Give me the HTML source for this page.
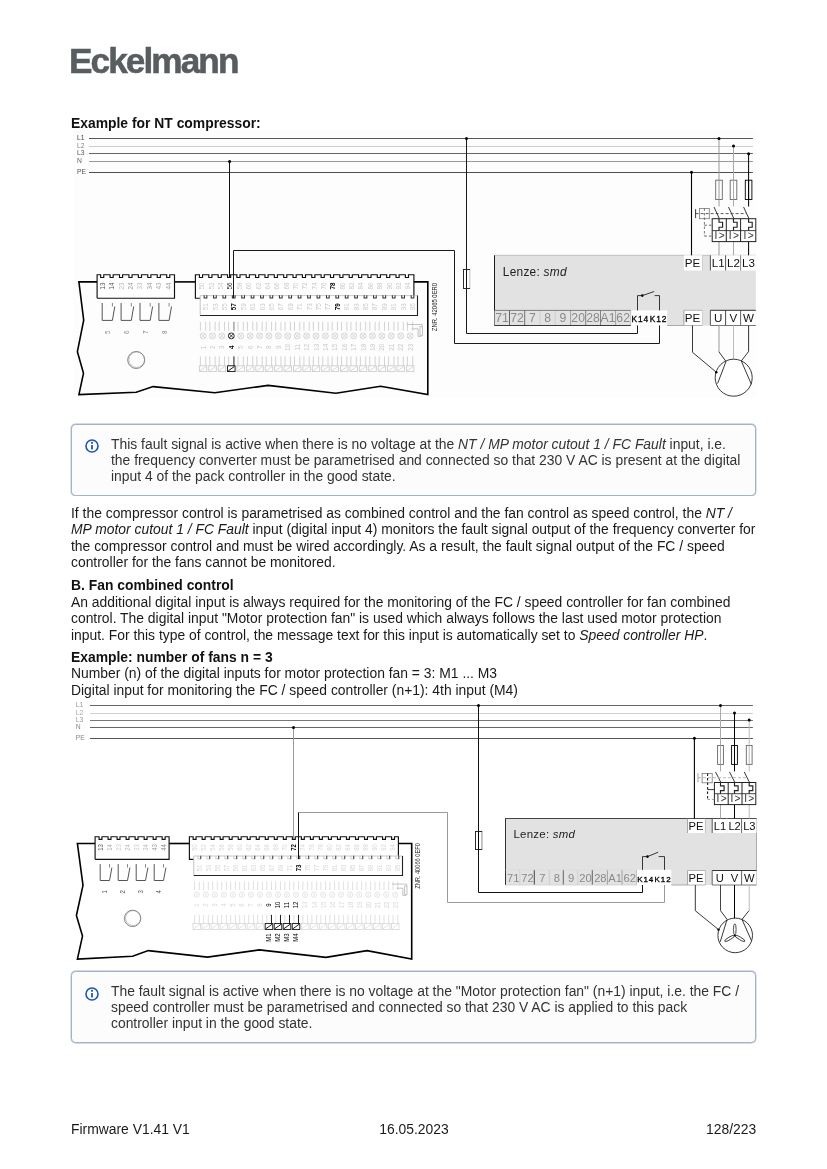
<!DOCTYPE html>
<html lang="en"><head><meta charset="utf-8"><title>Eckelmann – Firmware V1.41</title>
<style>
html,body{margin:0;padding:0;background:#fff;}
body{width:827px;height:1169px;position:relative;overflow:hidden;font-family:"Liberation Sans", Arial, sans-serif;color:#1a1a1a;}
.t{position:absolute;white-space:nowrap;will-change:transform;font-size:13.89px;line-height:18px;height:18px;}
.b{font-weight:bold;color:#111;}
.logo{position:absolute;will-change:transform;left:69.2px;top:41.4px;font-size:35.2px;line-height:40px;font-weight:bold;color:#585d60;-webkit-text-stroke:0.55px #585d60;letter-spacing:-1.92px;white-space:nowrap;}
.info{position:absolute;left:70.6px;width:683.2px;height:70px;border:1px solid #a3b3c7;border-radius:4.5px;background:#fcfcfc;box-shadow:0 0 0 0.4px #a9b8ca;}
.ico{position:absolute;}
svg.dia{position:absolute;left:0;top:0;will-change:transform;}
svg.dia text{font-family:"Liberation Sans", Arial, sans-serif;}
</style></head><body>
<div class="logo">Eckelmann</div>
<svg class="dia" width="827" height="1169" viewBox="0 0 827 1169">
<rect x="72.8" y="130" width="683.4" height="267.5" fill="#fdfdfd" stroke="none" stroke-width="1" />
<line x1="89" y1="138.5" x2="752.9" y2="138.5" stroke="#555" stroke-width="1" />
<text transform="translate(77 139.9) scale(0.88 1)" font-size="7.7" fill="#444" text-anchor="start" font-weight="normal" font-style="normal" >L1</text>
<line x1="89" y1="146.5" x2="752.9" y2="146.5" stroke="#cdcdcd" stroke-width="1" />
<text transform="translate(77 147.9) scale(0.88 1)" font-size="7.7" fill="#888" text-anchor="start" font-weight="normal" font-style="normal" >L2</text>
<line x1="89" y1="153.5" x2="752.9" y2="153.5" stroke="#666" stroke-width="1" />
<text transform="translate(77 154.9) scale(0.88 1)" font-size="7.7" fill="#555" text-anchor="start" font-weight="normal" font-style="normal" >L3</text>
<line x1="89" y1="161.5" x2="752.9" y2="161.5" stroke="#999" stroke-width="1" />
<text transform="translate(77 162.9) scale(0.88 1)" font-size="7.7" fill="#666" text-anchor="start" font-weight="normal" font-style="normal" >N</text>
<line x1="89" y1="172.5" x2="752.9" y2="172.5" stroke="#505050" stroke-width="1" />
<text transform="translate(77 173.9) scale(0.88 1)" font-size="7.7" fill="#555" text-anchor="start" font-weight="normal" font-style="normal" >PE</text>
<polyline points="97.1,281.9 78.9,281.9 83.7,320.1 77.4,351.6 83.5,373.3 78.9,394.6 136.2,392.2 153.1,386.6 214.8,392.7 268.1,385.4 335.9,393.2 380.6,386.2 427.8,394.6 427.8,281.9 413.9,281.9" fill="none" stroke="#000" stroke-width="1.6" stroke-linejoin="miter"/>
<line x1="174.5" y1="281.9" x2="195.4" y2="281.9" stroke="#000" stroke-width="1.6" />
<polyline points="97.1,298.2 97.1,274.7 100.65,274.7 100.65,277.5 103.75,277.5 103.75,274.7 110.08,274.7 110.08,277.5 113.18,277.5 113.18,274.7 119.51,274.7 119.51,277.5 122.61,277.5 122.61,274.7 128.94,274.7 128.94,277.5 132.04,277.5 132.04,274.7 138.37,274.7 138.37,277.5 141.47,277.5 141.47,274.7 147.8,274.7 147.8,277.5 150.9,277.5 150.9,274.7 157.23,274.7 157.23,277.5 160.33,277.5 160.33,274.7 166.66,274.7 166.66,277.5 169.76,277.5 169.76,274.7 174.5,274.7 174.5,298.2 97.1,298.2" fill="#fff" stroke="#111" stroke-width="1.15" />
<text transform="translate(104.72 286) rotate(-90) scale(0.89 1)" font-size="7" fill="#555" text-anchor="middle" font-weight="normal" font-style="normal" >13</text>
<text transform="translate(114.15 286) rotate(-90) scale(0.89 1)" font-size="7" fill="#555" text-anchor="middle" font-weight="normal" font-style="normal" >14</text>
<text transform="translate(123.58 286) rotate(-90) scale(0.89 1)" font-size="7" fill="#bbb" text-anchor="middle" font-weight="normal" font-style="normal" >23</text>
<text transform="translate(133.01 286) rotate(-90) scale(0.89 1)" font-size="7" fill="#999" text-anchor="middle" font-weight="normal" font-style="normal" >24</text>
<text transform="translate(142.44 286) rotate(-90) scale(0.89 1)" font-size="7" fill="#bbb" text-anchor="middle" font-weight="normal" font-style="normal" >33</text>
<text transform="translate(151.87 286) rotate(-90) scale(0.89 1)" font-size="7" fill="#999" text-anchor="middle" font-weight="normal" font-style="normal" >34</text>
<text transform="translate(161.3 286) rotate(-90) scale(0.89 1)" font-size="7" fill="#aaa" text-anchor="middle" font-weight="normal" font-style="normal" >43</text>
<text transform="translate(170.73 286) rotate(-90) scale(0.89 1)" font-size="7" fill="#999" text-anchor="middle" font-weight="normal" font-style="normal" >44</text>
<polyline points="102.2,303 102.2,320.4 112.4,320.4 114.8,306.5" fill="none" stroke="#555" stroke-width="1" />
<line x1="112.4" y1="303" x2="112.4" y2="306.5" stroke="#888" stroke-width="1" />
<text transform="translate(109.82 332.2) rotate(-90) scale(0.89 1)" font-size="7" fill="#888" text-anchor="middle" font-weight="normal" font-style="normal" >5</text>
<polyline points="121.1,303 121.1,320.4 131.3,320.4 133.7,306.5" fill="none" stroke="#555" stroke-width="1" />
<line x1="131.3" y1="303" x2="131.3" y2="306.5" stroke="#888" stroke-width="1" />
<text transform="translate(128.72 332.2) rotate(-90) scale(0.89 1)" font-size="7" fill="#888" text-anchor="middle" font-weight="normal" font-style="normal" >6</text>
<polyline points="140,303 140,320.4 150.2,320.4 152.6,306.5" fill="none" stroke="#555" stroke-width="1" />
<line x1="150.2" y1="303" x2="150.2" y2="306.5" stroke="#888" stroke-width="1" />
<text transform="translate(147.62 332.2) rotate(-90) scale(0.89 1)" font-size="7" fill="#888" text-anchor="middle" font-weight="normal" font-style="normal" >7</text>
<polyline points="158.9,303 158.9,320.4 169.1,320.4 171.5,306.5" fill="none" stroke="#555" stroke-width="1" />
<line x1="169.1" y1="303" x2="169.1" y2="306.5" stroke="#888" stroke-width="1" />
<text transform="translate(166.52 332.2) rotate(-90) scale(0.89 1)" font-size="7" fill="#888" text-anchor="middle" font-weight="normal" font-style="normal" >8</text>
<circle cx="136.2" cy="360" r="8.5" fill="none" stroke="#555" stroke-width="0.7"/>
<circle cx="136.7" cy="359.7" r="7.8" fill="none" stroke="#888" stroke-width="0.5"/>
<rect x="195.4" y="274.7" width="218.5" height="23.5" fill="#fff" stroke="none" stroke-width="1" />
<polyline points="200.2,298.2 195.4,298.2 195.4,274.7 199.45,274.7 199.45,277.5 202.55,277.5 202.55,274.7 208.81,274.7 208.81,277.5 211.91,277.5 211.91,274.7 218.17,274.7 218.17,277.5 221.27,277.5 221.27,274.7 227.53,274.7 227.53,277.5 230.63,277.5 230.63,274.7 236.89,274.7 236.89,277.5 239.99,277.5 239.99,274.7 246.25,274.7 246.25,277.5 249.35,277.5 249.35,274.7 255.61,274.7 255.61,277.5 258.71,277.5 258.71,274.7 264.97,274.7 264.97,277.5 268.07,277.5 268.07,274.7 274.33,274.7 274.33,277.5 277.43,277.5 277.43,274.7 283.69,274.7 283.69,277.5 286.79,277.5 286.79,274.7 293.05,274.7 293.05,277.5 296.15,277.5 296.15,274.7 302.41,274.7 302.41,277.5 305.51,277.5 305.51,274.7 311.77,274.7 311.77,277.5 314.87,277.5 314.87,274.7 321.13,274.7 321.13,277.5 324.23,277.5 324.23,274.7 330.49,274.7 330.49,277.5 333.59,277.5 333.59,274.7 339.85,274.7 339.85,277.5 342.95,277.5 342.95,274.7 349.21,274.7 349.21,277.5 352.31,277.5 352.31,274.7 358.57,274.7 358.57,277.5 361.67,277.5 361.67,274.7 367.93,274.7 367.93,277.5 371.03,277.5 371.03,274.7 377.29,274.7 377.29,277.5 380.39,277.5 380.39,274.7 386.65,274.7 386.65,277.5 389.75,277.5 389.75,274.7 396.01,274.7 396.01,277.5 399.11,277.5 399.11,274.7 405.37,274.7 405.37,277.5 408.47,277.5 408.47,274.7 413.9,274.7 413.9,295.6" fill="none" stroke="#111" stroke-width="1.15" />
<text transform="translate(204.42 286) rotate(-90) scale(0.89 1)" font-size="7" fill="#c8c8c8" text-anchor="middle" font-weight="normal" font-style="normal" >50</text>
<text transform="translate(213.78 286) rotate(-90) scale(0.89 1)" font-size="7" fill="#c8c8c8" text-anchor="middle" font-weight="normal" font-style="normal" >52</text>
<text transform="translate(223.13 286) rotate(-90) scale(0.89 1)" font-size="7" fill="#c8c8c8" text-anchor="middle" font-weight="normal" font-style="normal" >54</text>
<text transform="translate(232.49 286) rotate(-90) scale(0.89 1)" font-size="7" fill="#222" text-anchor="middle" font-weight="normal" font-style="normal" >56</text>
<text transform="translate(241.84 286) rotate(-90) scale(0.89 1)" font-size="7" fill="#c8c8c8" text-anchor="middle" font-weight="normal" font-style="normal" >58</text>
<text transform="translate(251.2 286) rotate(-90) scale(0.89 1)" font-size="7" fill="#c8c8c8" text-anchor="middle" font-weight="normal" font-style="normal" >60</text>
<text transform="translate(260.55 286) rotate(-90) scale(0.89 1)" font-size="7" fill="#c8c8c8" text-anchor="middle" font-weight="normal" font-style="normal" >62</text>
<text transform="translate(269.9 286) rotate(-90) scale(0.89 1)" font-size="7" fill="#c8c8c8" text-anchor="middle" font-weight="normal" font-style="normal" >64</text>
<text transform="translate(279.26 286) rotate(-90) scale(0.89 1)" font-size="7" fill="#c8c8c8" text-anchor="middle" font-weight="normal" font-style="normal" >66</text>
<text transform="translate(288.62 286) rotate(-90) scale(0.89 1)" font-size="7" fill="#c8c8c8" text-anchor="middle" font-weight="normal" font-style="normal" >68</text>
<text transform="translate(297.97 286) rotate(-90) scale(0.89 1)" font-size="7" fill="#c8c8c8" text-anchor="middle" font-weight="normal" font-style="normal" >70</text>
<text transform="translate(307.32 286) rotate(-90) scale(0.89 1)" font-size="7" fill="#c8c8c8" text-anchor="middle" font-weight="normal" font-style="normal" >72</text>
<text transform="translate(316.68 286) rotate(-90) scale(0.89 1)" font-size="7" fill="#c8c8c8" text-anchor="middle" font-weight="normal" font-style="normal" >74</text>
<text transform="translate(326.03 286) rotate(-90) scale(0.89 1)" font-size="7" fill="#c8c8c8" text-anchor="middle" font-weight="normal" font-style="normal" >76</text>
<text transform="translate(335.39 286) rotate(-90) scale(0.89 1)" font-size="7" fill="#000" text-anchor="middle" font-weight="bold" font-style="normal" >78</text>
<text transform="translate(344.75 286) rotate(-90) scale(0.89 1)" font-size="7" fill="#c8c8c8" text-anchor="middle" font-weight="normal" font-style="normal" >80</text>
<text transform="translate(354.1 286) rotate(-90) scale(0.89 1)" font-size="7" fill="#c8c8c8" text-anchor="middle" font-weight="normal" font-style="normal" >82</text>
<text transform="translate(363.45 286) rotate(-90) scale(0.89 1)" font-size="7" fill="#c8c8c8" text-anchor="middle" font-weight="normal" font-style="normal" >84</text>
<text transform="translate(372.81 286) rotate(-90) scale(0.89 1)" font-size="7" fill="#c8c8c8" text-anchor="middle" font-weight="normal" font-style="normal" >86</text>
<text transform="translate(382.16 286) rotate(-90) scale(0.89 1)" font-size="7" fill="#c8c8c8" text-anchor="middle" font-weight="normal" font-style="normal" >88</text>
<text transform="translate(391.52 286) rotate(-90) scale(0.89 1)" font-size="7" fill="#c8c8c8" text-anchor="middle" font-weight="normal" font-style="normal" >90</text>
<text transform="translate(400.88 286) rotate(-90) scale(0.89 1)" font-size="7" fill="#c8c8c8" text-anchor="middle" font-weight="normal" font-style="normal" >92</text>
<text transform="translate(410.23 286) rotate(-90) scale(0.89 1)" font-size="7" fill="#c8c8c8" text-anchor="middle" font-weight="normal" font-style="normal" >94</text>
<rect x="200.2" y="295.6" width="217.3" height="19.9" fill="#fff" stroke="none" stroke-width="1" />
<line x1="200.2" y1="295.6" x2="417.5" y2="295.6" stroke="#c4c4c4" stroke-width="0.9" />
<line x1="200.2" y1="295.6" x2="200.2" y2="315.5" stroke="#bbb" stroke-width="0.9" />
<polyline points="204.15,295.2 204.15,298 206.85,298 206.85,295.2" fill="none" stroke="#333" stroke-width="1.05" />
<polyline points="213.56,295.2 213.56,298 216.26,298 216.26,295.2" fill="none" stroke="#333" stroke-width="1.05" />
<polyline points="222.97,295.2 222.97,298 225.67,298 225.67,295.2" fill="none" stroke="#333" stroke-width="1.05" />
<polyline points="232.38,295.2 232.38,298 235.08,298 235.08,295.2" fill="none" stroke="#333" stroke-width="1.05" />
<polyline points="241.79,295.2 241.79,298 244.49,298 244.49,295.2" fill="none" stroke="#333" stroke-width="1.05" />
<polyline points="251.2,295.2 251.2,298 253.9,298 253.9,295.2" fill="none" stroke="#333" stroke-width="1.05" />
<polyline points="260.61,295.2 260.61,298 263.31,298 263.31,295.2" fill="none" stroke="#333" stroke-width="1.05" />
<polyline points="270.02,295.2 270.02,298 272.72,298 272.72,295.2" fill="none" stroke="#333" stroke-width="1.05" />
<polyline points="279.43,295.2 279.43,298 282.13,298 282.13,295.2" fill="none" stroke="#333" stroke-width="1.05" />
<polyline points="288.84,295.2 288.84,298 291.54,298 291.54,295.2" fill="none" stroke="#333" stroke-width="1.05" />
<polyline points="298.25,295.2 298.25,298 300.95,298 300.95,295.2" fill="none" stroke="#333" stroke-width="1.05" />
<polyline points="307.66,295.2 307.66,298 310.36,298 310.36,295.2" fill="none" stroke="#333" stroke-width="1.05" />
<polyline points="317.07,295.2 317.07,298 319.77,298 319.77,295.2" fill="none" stroke="#333" stroke-width="1.05" />
<polyline points="326.48,295.2 326.48,298 329.18,298 329.18,295.2" fill="none" stroke="#333" stroke-width="1.05" />
<polyline points="335.89,295.2 335.89,298 338.59,298 338.59,295.2" fill="none" stroke="#333" stroke-width="1.05" />
<polyline points="345.3,295.2 345.3,298 348,298 348,295.2" fill="none" stroke="#333" stroke-width="1.05" />
<polyline points="354.71,295.2 354.71,298 357.41,298 357.41,295.2" fill="none" stroke="#333" stroke-width="1.05" />
<polyline points="364.12,295.2 364.12,298 366.82,298 366.82,295.2" fill="none" stroke="#333" stroke-width="1.05" />
<polyline points="373.53,295.2 373.53,298 376.23,298 376.23,295.2" fill="none" stroke="#333" stroke-width="1.05" />
<polyline points="382.94,295.2 382.94,298 385.64,298 385.64,295.2" fill="none" stroke="#333" stroke-width="1.05" />
<polyline points="392.35,295.2 392.35,298 395.05,298 395.05,295.2" fill="none" stroke="#333" stroke-width="1.05" />
<polyline points="401.76,295.2 401.76,298 404.46,298 404.46,295.2" fill="none" stroke="#333" stroke-width="1.05" />
<polyline points="411.17,295.2 411.17,298 413.87,298 413.87,295.2" fill="none" stroke="#333" stroke-width="1.05" />
<polyline points="200.2,315.5 417.5,315.5 417.5,295.6" fill="none" stroke="#222" stroke-width="1.1" />
<text transform="translate(208.32 306.7) rotate(-90) scale(0.89 1)" font-size="7" fill="#c8c8c8" text-anchor="middle" font-weight="normal" font-style="normal" >51</text>
<text transform="translate(217.71 306.7) rotate(-90) scale(0.89 1)" font-size="7" fill="#c8c8c8" text-anchor="middle" font-weight="normal" font-style="normal" >53</text>
<text transform="translate(227.1 306.7) rotate(-90) scale(0.89 1)" font-size="7" fill="#c8c8c8" text-anchor="middle" font-weight="normal" font-style="normal" >55</text>
<text transform="translate(236.49 306.7) rotate(-90) scale(0.89 1)" font-size="7" fill="#000" text-anchor="middle" font-weight="bold" font-style="normal" >57</text>
<text transform="translate(245.88 306.7) rotate(-90) scale(0.89 1)" font-size="7" fill="#c8c8c8" text-anchor="middle" font-weight="normal" font-style="normal" >59</text>
<text transform="translate(255.27 306.7) rotate(-90) scale(0.89 1)" font-size="7" fill="#c8c8c8" text-anchor="middle" font-weight="normal" font-style="normal" >61</text>
<text transform="translate(264.66 306.7) rotate(-90) scale(0.89 1)" font-size="7" fill="#c8c8c8" text-anchor="middle" font-weight="normal" font-style="normal" >63</text>
<text transform="translate(274.05 306.7) rotate(-90) scale(0.89 1)" font-size="7" fill="#c8c8c8" text-anchor="middle" font-weight="normal" font-style="normal" >65</text>
<text transform="translate(283.44 306.7) rotate(-90) scale(0.89 1)" font-size="7" fill="#c8c8c8" text-anchor="middle" font-weight="normal" font-style="normal" >67</text>
<text transform="translate(292.83 306.7) rotate(-90) scale(0.89 1)" font-size="7" fill="#c8c8c8" text-anchor="middle" font-weight="normal" font-style="normal" >69</text>
<text transform="translate(302.22 306.7) rotate(-90) scale(0.89 1)" font-size="7" fill="#c8c8c8" text-anchor="middle" font-weight="normal" font-style="normal" >71</text>
<text transform="translate(311.61 306.7) rotate(-90) scale(0.89 1)" font-size="7" fill="#c8c8c8" text-anchor="middle" font-weight="normal" font-style="normal" >73</text>
<text transform="translate(321 306.7) rotate(-90) scale(0.89 1)" font-size="7" fill="#c8c8c8" text-anchor="middle" font-weight="normal" font-style="normal" >75</text>
<text transform="translate(330.39 306.7) rotate(-90) scale(0.89 1)" font-size="7" fill="#c8c8c8" text-anchor="middle" font-weight="normal" font-style="normal" >77</text>
<text transform="translate(339.78 306.7) rotate(-90) scale(0.89 1)" font-size="7" fill="#000" text-anchor="middle" font-weight="bold" font-style="normal" >79</text>
<text transform="translate(349.17 306.7) rotate(-90) scale(0.89 1)" font-size="7" fill="#c8c8c8" text-anchor="middle" font-weight="normal" font-style="normal" >81</text>
<text transform="translate(358.56 306.7) rotate(-90) scale(0.89 1)" font-size="7" fill="#c8c8c8" text-anchor="middle" font-weight="normal" font-style="normal" >83</text>
<text transform="translate(367.95 306.7) rotate(-90) scale(0.89 1)" font-size="7" fill="#c8c8c8" text-anchor="middle" font-weight="normal" font-style="normal" >85</text>
<text transform="translate(377.34 306.7) rotate(-90) scale(0.89 1)" font-size="7" fill="#c8c8c8" text-anchor="middle" font-weight="normal" font-style="normal" >87</text>
<text transform="translate(386.73 306.7) rotate(-90) scale(0.89 1)" font-size="7" fill="#c8c8c8" text-anchor="middle" font-weight="normal" font-style="normal" >89</text>
<text transform="translate(396.12 306.7) rotate(-90) scale(0.89 1)" font-size="7" fill="#c8c8c8" text-anchor="middle" font-weight="normal" font-style="normal" >91</text>
<text transform="translate(405.51 306.7) rotate(-90) scale(0.89 1)" font-size="7" fill="#c8c8c8" text-anchor="middle" font-weight="normal" font-style="normal" >93</text>
<text transform="translate(414.9 306.7) rotate(-90) scale(0.89 1)" font-size="7" fill="#c8c8c8" text-anchor="middle" font-weight="normal" font-style="normal" >95</text>
<line x1="200.4" y1="321.8" x2="200.4" y2="330.8" stroke="#c8c8c8" stroke-width="0.8" />
<line x1="205.7" y1="321.8" x2="205.7" y2="330.8" stroke="#c8c8c8" stroke-width="0.8" />
<circle cx="203.1" cy="335.9" r="2.95" fill="none" stroke="#c8c8c8" stroke-width="0.7"/>
<line x1="200.98" y1="333.78" x2="205.22" y2="338.02" stroke="#c8c8c8" stroke-width="0.7" />
<line x1="200.98" y1="338.02" x2="205.22" y2="333.78" stroke="#c8c8c8" stroke-width="0.7" />
<text transform="translate(205.62 347.2) rotate(-90) scale(0.89 1)" font-size="7" fill="#c8c8c8" text-anchor="middle" font-weight="normal" font-style="normal" >1</text>
<line x1="200.4" y1="356.4" x2="200.4" y2="365.8" stroke="#c8c8c8" stroke-width="0.8" />
<line x1="205.7" y1="356.4" x2="205.7" y2="365.8" stroke="#c8c8c8" stroke-width="0.8" />
<rect x="199.35" y="365.8" width="7.5" height="5.8" fill="none" stroke="#c8c8c8" stroke-width="0.8" />
<line x1="199.95" y1="371" x2="206.25" y2="366.4" stroke="#c8c8c8" stroke-width="0.7" />
<line x1="209.81" y1="321.8" x2="209.81" y2="330.8" stroke="#c8c8c8" stroke-width="0.8" />
<line x1="215.11" y1="321.8" x2="215.11" y2="330.8" stroke="#c8c8c8" stroke-width="0.8" />
<circle cx="212.51" cy="335.9" r="2.95" fill="none" stroke="#c8c8c8" stroke-width="0.7"/>
<line x1="210.39" y1="333.78" x2="214.63" y2="338.02" stroke="#c8c8c8" stroke-width="0.7" />
<line x1="210.39" y1="338.02" x2="214.63" y2="333.78" stroke="#c8c8c8" stroke-width="0.7" />
<text transform="translate(215.03 347.2) rotate(-90) scale(0.89 1)" font-size="7" fill="#c8c8c8" text-anchor="middle" font-weight="normal" font-style="normal" >2</text>
<line x1="209.81" y1="356.4" x2="209.81" y2="365.8" stroke="#c8c8c8" stroke-width="0.8" />
<line x1="215.11" y1="356.4" x2="215.11" y2="365.8" stroke="#c8c8c8" stroke-width="0.8" />
<rect x="208.76" y="365.8" width="7.5" height="5.8" fill="none" stroke="#c8c8c8" stroke-width="0.8" />
<line x1="209.36" y1="371" x2="215.66" y2="366.4" stroke="#c8c8c8" stroke-width="0.7" />
<line x1="219.22" y1="321.8" x2="219.22" y2="330.8" stroke="#c8c8c8" stroke-width="0.8" />
<line x1="224.52" y1="321.8" x2="224.52" y2="330.8" stroke="#c8c8c8" stroke-width="0.8" />
<circle cx="221.92" cy="335.9" r="2.95" fill="none" stroke="#c8c8c8" stroke-width="0.7"/>
<line x1="219.8" y1="333.78" x2="224.04" y2="338.02" stroke="#c8c8c8" stroke-width="0.7" />
<line x1="219.8" y1="338.02" x2="224.04" y2="333.78" stroke="#c8c8c8" stroke-width="0.7" />
<text transform="translate(224.44 347.2) rotate(-90) scale(0.89 1)" font-size="7" fill="#c8c8c8" text-anchor="middle" font-weight="normal" font-style="normal" >3</text>
<line x1="219.22" y1="356.4" x2="219.22" y2="365.8" stroke="#c8c8c8" stroke-width="0.8" />
<line x1="224.52" y1="356.4" x2="224.52" y2="365.8" stroke="#c8c8c8" stroke-width="0.8" />
<rect x="218.17" y="365.8" width="7.5" height="5.8" fill="none" stroke="#c8c8c8" stroke-width="0.8" />
<line x1="218.77" y1="371" x2="225.07" y2="366.4" stroke="#c8c8c8" stroke-width="0.7" />
<line x1="228.63" y1="321.8" x2="228.63" y2="330.8" stroke="#c8c8c8" stroke-width="0.8" />
<line x1="233.93" y1="321.8" x2="233.93" y2="330.8" stroke="#555" stroke-width="0.8" />
<circle cx="231.33" cy="335.9" r="2.95" fill="none" stroke="#000" stroke-width="0.8"/>
<line x1="229.21" y1="333.78" x2="233.45" y2="338.02" stroke="#000" stroke-width="0.7" />
<line x1="229.21" y1="338.02" x2="233.45" y2="333.78" stroke="#000" stroke-width="0.7" />
<text transform="translate(233.85 347.2) rotate(-90) scale(0.89 1)" font-size="7" fill="#000" text-anchor="middle" font-weight="bold" font-style="normal" >4</text>
<line x1="228.63" y1="356.4" x2="228.63" y2="365.8" stroke="#c8c8c8" stroke-width="0.8" />
<line x1="233.93" y1="356.4" x2="233.93" y2="365.8" stroke="#000" stroke-width="0.9" />
<rect x="227.58" y="365.8" width="7.5" height="5.8" fill="none" stroke="#000" stroke-width="0.85" />
<line x1="228.18" y1="371" x2="234.48" y2="366.4" stroke="#000" stroke-width="0.9" />
<line x1="238.04" y1="321.8" x2="238.04" y2="330.8" stroke="#c8c8c8" stroke-width="0.8" />
<line x1="243.34" y1="321.8" x2="243.34" y2="330.8" stroke="#c8c8c8" stroke-width="0.8" />
<circle cx="240.74" cy="335.9" r="2.95" fill="none" stroke="#c8c8c8" stroke-width="0.7"/>
<line x1="238.62" y1="333.78" x2="242.86" y2="338.02" stroke="#c8c8c8" stroke-width="0.7" />
<line x1="238.62" y1="338.02" x2="242.86" y2="333.78" stroke="#c8c8c8" stroke-width="0.7" />
<text transform="translate(243.26 347.2) rotate(-90) scale(0.89 1)" font-size="7" fill="#c8c8c8" text-anchor="middle" font-weight="normal" font-style="normal" >5</text>
<line x1="238.04" y1="356.4" x2="238.04" y2="365.8" stroke="#c8c8c8" stroke-width="0.8" />
<line x1="243.34" y1="356.4" x2="243.34" y2="365.8" stroke="#c8c8c8" stroke-width="0.8" />
<rect x="236.99" y="365.8" width="7.5" height="5.8" fill="none" stroke="#c8c8c8" stroke-width="0.8" />
<line x1="237.59" y1="371" x2="243.89" y2="366.4" stroke="#c8c8c8" stroke-width="0.7" />
<line x1="247.45" y1="321.8" x2="247.45" y2="330.8" stroke="#c8c8c8" stroke-width="0.8" />
<line x1="252.75" y1="321.8" x2="252.75" y2="330.8" stroke="#c8c8c8" stroke-width="0.8" />
<circle cx="250.15" cy="335.9" r="2.95" fill="none" stroke="#c8c8c8" stroke-width="0.7"/>
<line x1="248.03" y1="333.78" x2="252.27" y2="338.02" stroke="#c8c8c8" stroke-width="0.7" />
<line x1="248.03" y1="338.02" x2="252.27" y2="333.78" stroke="#c8c8c8" stroke-width="0.7" />
<text transform="translate(252.67 347.2) rotate(-90) scale(0.89 1)" font-size="7" fill="#c8c8c8" text-anchor="middle" font-weight="normal" font-style="normal" >6</text>
<line x1="247.45" y1="356.4" x2="247.45" y2="365.8" stroke="#c8c8c8" stroke-width="0.8" />
<line x1="252.75" y1="356.4" x2="252.75" y2="365.8" stroke="#c8c8c8" stroke-width="0.8" />
<rect x="246.4" y="365.8" width="7.5" height="5.8" fill="none" stroke="#c8c8c8" stroke-width="0.8" />
<line x1="247" y1="371" x2="253.3" y2="366.4" stroke="#c8c8c8" stroke-width="0.7" />
<line x1="256.86" y1="321.8" x2="256.86" y2="330.8" stroke="#c8c8c8" stroke-width="0.8" />
<line x1="262.16" y1="321.8" x2="262.16" y2="330.8" stroke="#c8c8c8" stroke-width="0.8" />
<circle cx="259.56" cy="335.9" r="2.95" fill="none" stroke="#c8c8c8" stroke-width="0.7"/>
<line x1="257.44" y1="333.78" x2="261.68" y2="338.02" stroke="#c8c8c8" stroke-width="0.7" />
<line x1="257.44" y1="338.02" x2="261.68" y2="333.78" stroke="#c8c8c8" stroke-width="0.7" />
<text transform="translate(262.08 347.2) rotate(-90) scale(0.89 1)" font-size="7" fill="#c8c8c8" text-anchor="middle" font-weight="normal" font-style="normal" >7</text>
<line x1="256.86" y1="356.4" x2="256.86" y2="365.8" stroke="#c8c8c8" stroke-width="0.8" />
<line x1="262.16" y1="356.4" x2="262.16" y2="365.8" stroke="#c8c8c8" stroke-width="0.8" />
<rect x="255.81" y="365.8" width="7.5" height="5.8" fill="none" stroke="#c8c8c8" stroke-width="0.8" />
<line x1="256.41" y1="371" x2="262.71" y2="366.4" stroke="#c8c8c8" stroke-width="0.7" />
<line x1="266.27" y1="321.8" x2="266.27" y2="330.8" stroke="#c8c8c8" stroke-width="0.8" />
<line x1="271.57" y1="321.8" x2="271.57" y2="330.8" stroke="#c8c8c8" stroke-width="0.8" />
<circle cx="268.97" cy="335.9" r="2.95" fill="none" stroke="#c8c8c8" stroke-width="0.7"/>
<line x1="266.85" y1="333.78" x2="271.09" y2="338.02" stroke="#c8c8c8" stroke-width="0.7" />
<line x1="266.85" y1="338.02" x2="271.09" y2="333.78" stroke="#c8c8c8" stroke-width="0.7" />
<text transform="translate(271.49 347.2) rotate(-90) scale(0.89 1)" font-size="7" fill="#c8c8c8" text-anchor="middle" font-weight="normal" font-style="normal" >8</text>
<line x1="266.27" y1="356.4" x2="266.27" y2="365.8" stroke="#c8c8c8" stroke-width="0.8" />
<line x1="271.57" y1="356.4" x2="271.57" y2="365.8" stroke="#c8c8c8" stroke-width="0.8" />
<rect x="265.22" y="365.8" width="7.5" height="5.8" fill="none" stroke="#c8c8c8" stroke-width="0.8" />
<line x1="265.82" y1="371" x2="272.12" y2="366.4" stroke="#c8c8c8" stroke-width="0.7" />
<line x1="275.68" y1="321.8" x2="275.68" y2="330.8" stroke="#c8c8c8" stroke-width="0.8" />
<line x1="280.98" y1="321.8" x2="280.98" y2="330.8" stroke="#c8c8c8" stroke-width="0.8" />
<circle cx="278.38" cy="335.9" r="2.95" fill="none" stroke="#c8c8c8" stroke-width="0.7"/>
<line x1="276.26" y1="333.78" x2="280.5" y2="338.02" stroke="#c8c8c8" stroke-width="0.7" />
<line x1="276.26" y1="338.02" x2="280.5" y2="333.78" stroke="#c8c8c8" stroke-width="0.7" />
<text transform="translate(280.9 347.2) rotate(-90) scale(0.89 1)" font-size="7" fill="#c8c8c8" text-anchor="middle" font-weight="normal" font-style="normal" >9</text>
<line x1="275.68" y1="356.4" x2="275.68" y2="365.8" stroke="#c8c8c8" stroke-width="0.8" />
<line x1="280.98" y1="356.4" x2="280.98" y2="365.8" stroke="#c8c8c8" stroke-width="0.8" />
<rect x="274.63" y="365.8" width="7.5" height="5.8" fill="none" stroke="#c8c8c8" stroke-width="0.8" />
<line x1="275.23" y1="371" x2="281.53" y2="366.4" stroke="#c8c8c8" stroke-width="0.7" />
<line x1="285.09" y1="321.8" x2="285.09" y2="330.8" stroke="#c8c8c8" stroke-width="0.8" />
<line x1="290.39" y1="321.8" x2="290.39" y2="330.8" stroke="#c8c8c8" stroke-width="0.8" />
<circle cx="287.79" cy="335.9" r="2.95" fill="none" stroke="#c8c8c8" stroke-width="0.7"/>
<line x1="285.67" y1="333.78" x2="289.91" y2="338.02" stroke="#c8c8c8" stroke-width="0.7" />
<line x1="285.67" y1="338.02" x2="289.91" y2="333.78" stroke="#c8c8c8" stroke-width="0.7" />
<text transform="translate(290.31 347.2) rotate(-90) scale(0.89 1)" font-size="7" fill="#c8c8c8" text-anchor="middle" font-weight="normal" font-style="normal" >10</text>
<line x1="285.09" y1="356.4" x2="285.09" y2="365.8" stroke="#c8c8c8" stroke-width="0.8" />
<line x1="290.39" y1="356.4" x2="290.39" y2="365.8" stroke="#c8c8c8" stroke-width="0.8" />
<rect x="284.04" y="365.8" width="7.5" height="5.8" fill="none" stroke="#c8c8c8" stroke-width="0.8" />
<line x1="284.64" y1="371" x2="290.94" y2="366.4" stroke="#c8c8c8" stroke-width="0.7" />
<line x1="294.5" y1="321.8" x2="294.5" y2="330.8" stroke="#c8c8c8" stroke-width="0.8" />
<line x1="299.8" y1="321.8" x2="299.8" y2="330.8" stroke="#c8c8c8" stroke-width="0.8" />
<circle cx="297.2" cy="335.9" r="2.95" fill="none" stroke="#c8c8c8" stroke-width="0.7"/>
<line x1="295.08" y1="333.78" x2="299.32" y2="338.02" stroke="#c8c8c8" stroke-width="0.7" />
<line x1="295.08" y1="338.02" x2="299.32" y2="333.78" stroke="#c8c8c8" stroke-width="0.7" />
<text transform="translate(299.72 347.2) rotate(-90) scale(0.89 1)" font-size="7" fill="#c8c8c8" text-anchor="middle" font-weight="normal" font-style="normal" >11</text>
<line x1="294.5" y1="356.4" x2="294.5" y2="365.8" stroke="#c8c8c8" stroke-width="0.8" />
<line x1="299.8" y1="356.4" x2="299.8" y2="365.8" stroke="#c8c8c8" stroke-width="0.8" />
<rect x="293.45" y="365.8" width="7.5" height="5.8" fill="none" stroke="#c8c8c8" stroke-width="0.8" />
<line x1="294.05" y1="371" x2="300.35" y2="366.4" stroke="#c8c8c8" stroke-width="0.7" />
<line x1="303.91" y1="321.8" x2="303.91" y2="330.8" stroke="#c8c8c8" stroke-width="0.8" />
<line x1="309.21" y1="321.8" x2="309.21" y2="330.8" stroke="#c8c8c8" stroke-width="0.8" />
<circle cx="306.61" cy="335.9" r="2.95" fill="none" stroke="#c8c8c8" stroke-width="0.7"/>
<line x1="304.49" y1="333.78" x2="308.73" y2="338.02" stroke="#c8c8c8" stroke-width="0.7" />
<line x1="304.49" y1="338.02" x2="308.73" y2="333.78" stroke="#c8c8c8" stroke-width="0.7" />
<text transform="translate(309.13 347.2) rotate(-90) scale(0.89 1)" font-size="7" fill="#c8c8c8" text-anchor="middle" font-weight="normal" font-style="normal" >12</text>
<line x1="303.91" y1="356.4" x2="303.91" y2="365.8" stroke="#c8c8c8" stroke-width="0.8" />
<line x1="309.21" y1="356.4" x2="309.21" y2="365.8" stroke="#c8c8c8" stroke-width="0.8" />
<rect x="302.86" y="365.8" width="7.5" height="5.8" fill="none" stroke="#c8c8c8" stroke-width="0.8" />
<line x1="303.46" y1="371" x2="309.76" y2="366.4" stroke="#c8c8c8" stroke-width="0.7" />
<line x1="313.32" y1="321.8" x2="313.32" y2="330.8" stroke="#c8c8c8" stroke-width="0.8" />
<line x1="318.62" y1="321.8" x2="318.62" y2="330.8" stroke="#c8c8c8" stroke-width="0.8" />
<circle cx="316.02" cy="335.9" r="2.95" fill="none" stroke="#c8c8c8" stroke-width="0.7"/>
<line x1="313.9" y1="333.78" x2="318.14" y2="338.02" stroke="#c8c8c8" stroke-width="0.7" />
<line x1="313.9" y1="338.02" x2="318.14" y2="333.78" stroke="#c8c8c8" stroke-width="0.7" />
<text transform="translate(318.54 347.2) rotate(-90) scale(0.89 1)" font-size="7" fill="#c8c8c8" text-anchor="middle" font-weight="normal" font-style="normal" >13</text>
<line x1="313.32" y1="356.4" x2="313.32" y2="365.8" stroke="#c8c8c8" stroke-width="0.8" />
<line x1="318.62" y1="356.4" x2="318.62" y2="365.8" stroke="#c8c8c8" stroke-width="0.8" />
<rect x="312.27" y="365.8" width="7.5" height="5.8" fill="none" stroke="#c8c8c8" stroke-width="0.8" />
<line x1="312.87" y1="371" x2="319.17" y2="366.4" stroke="#c8c8c8" stroke-width="0.7" />
<line x1="322.73" y1="321.8" x2="322.73" y2="330.8" stroke="#c8c8c8" stroke-width="0.8" />
<line x1="328.03" y1="321.8" x2="328.03" y2="330.8" stroke="#c8c8c8" stroke-width="0.8" />
<circle cx="325.43" cy="335.9" r="2.95" fill="none" stroke="#c8c8c8" stroke-width="0.7"/>
<line x1="323.31" y1="333.78" x2="327.55" y2="338.02" stroke="#c8c8c8" stroke-width="0.7" />
<line x1="323.31" y1="338.02" x2="327.55" y2="333.78" stroke="#c8c8c8" stroke-width="0.7" />
<text transform="translate(327.95 347.2) rotate(-90) scale(0.89 1)" font-size="7" fill="#c8c8c8" text-anchor="middle" font-weight="normal" font-style="normal" >14</text>
<line x1="322.73" y1="356.4" x2="322.73" y2="365.8" stroke="#c8c8c8" stroke-width="0.8" />
<line x1="328.03" y1="356.4" x2="328.03" y2="365.8" stroke="#c8c8c8" stroke-width="0.8" />
<rect x="321.68" y="365.8" width="7.5" height="5.8" fill="none" stroke="#c8c8c8" stroke-width="0.8" />
<line x1="322.28" y1="371" x2="328.58" y2="366.4" stroke="#c8c8c8" stroke-width="0.7" />
<line x1="332.14" y1="321.8" x2="332.14" y2="330.8" stroke="#c8c8c8" stroke-width="0.8" />
<line x1="337.44" y1="321.8" x2="337.44" y2="330.8" stroke="#c8c8c8" stroke-width="0.8" />
<circle cx="334.84" cy="335.9" r="2.95" fill="none" stroke="#c8c8c8" stroke-width="0.7"/>
<line x1="332.72" y1="333.78" x2="336.96" y2="338.02" stroke="#c8c8c8" stroke-width="0.7" />
<line x1="332.72" y1="338.02" x2="336.96" y2="333.78" stroke="#c8c8c8" stroke-width="0.7" />
<text transform="translate(337.36 347.2) rotate(-90) scale(0.89 1)" font-size="7" fill="#c8c8c8" text-anchor="middle" font-weight="normal" font-style="normal" >15</text>
<line x1="332.14" y1="356.4" x2="332.14" y2="365.8" stroke="#c8c8c8" stroke-width="0.8" />
<line x1="337.44" y1="356.4" x2="337.44" y2="365.8" stroke="#c8c8c8" stroke-width="0.8" />
<rect x="331.09" y="365.8" width="7.5" height="5.8" fill="none" stroke="#c8c8c8" stroke-width="0.8" />
<line x1="331.69" y1="371" x2="337.99" y2="366.4" stroke="#c8c8c8" stroke-width="0.7" />
<line x1="341.55" y1="321.8" x2="341.55" y2="330.8" stroke="#c8c8c8" stroke-width="0.8" />
<line x1="346.85" y1="321.8" x2="346.85" y2="330.8" stroke="#c8c8c8" stroke-width="0.8" />
<circle cx="344.25" cy="335.9" r="2.95" fill="none" stroke="#c8c8c8" stroke-width="0.7"/>
<line x1="342.13" y1="333.78" x2="346.37" y2="338.02" stroke="#c8c8c8" stroke-width="0.7" />
<line x1="342.13" y1="338.02" x2="346.37" y2="333.78" stroke="#c8c8c8" stroke-width="0.7" />
<text transform="translate(346.77 347.2) rotate(-90) scale(0.89 1)" font-size="7" fill="#c8c8c8" text-anchor="middle" font-weight="normal" font-style="normal" >16</text>
<line x1="341.55" y1="356.4" x2="341.55" y2="365.8" stroke="#c8c8c8" stroke-width="0.8" />
<line x1="346.85" y1="356.4" x2="346.85" y2="365.8" stroke="#c8c8c8" stroke-width="0.8" />
<rect x="340.5" y="365.8" width="7.5" height="5.8" fill="none" stroke="#c8c8c8" stroke-width="0.8" />
<line x1="341.1" y1="371" x2="347.4" y2="366.4" stroke="#c8c8c8" stroke-width="0.7" />
<line x1="350.96" y1="321.8" x2="350.96" y2="330.8" stroke="#c8c8c8" stroke-width="0.8" />
<line x1="356.26" y1="321.8" x2="356.26" y2="330.8" stroke="#c8c8c8" stroke-width="0.8" />
<circle cx="353.66" cy="335.9" r="2.95" fill="none" stroke="#c8c8c8" stroke-width="0.7"/>
<line x1="351.54" y1="333.78" x2="355.78" y2="338.02" stroke="#c8c8c8" stroke-width="0.7" />
<line x1="351.54" y1="338.02" x2="355.78" y2="333.78" stroke="#c8c8c8" stroke-width="0.7" />
<text transform="translate(356.18 347.2) rotate(-90) scale(0.89 1)" font-size="7" fill="#c8c8c8" text-anchor="middle" font-weight="normal" font-style="normal" >17</text>
<line x1="350.96" y1="356.4" x2="350.96" y2="365.8" stroke="#c8c8c8" stroke-width="0.8" />
<line x1="356.26" y1="356.4" x2="356.26" y2="365.8" stroke="#c8c8c8" stroke-width="0.8" />
<rect x="349.91" y="365.8" width="7.5" height="5.8" fill="none" stroke="#c8c8c8" stroke-width="0.8" />
<line x1="350.51" y1="371" x2="356.81" y2="366.4" stroke="#c8c8c8" stroke-width="0.7" />
<line x1="360.37" y1="321.8" x2="360.37" y2="330.8" stroke="#c8c8c8" stroke-width="0.8" />
<line x1="365.67" y1="321.8" x2="365.67" y2="330.8" stroke="#c8c8c8" stroke-width="0.8" />
<circle cx="363.07" cy="335.9" r="2.95" fill="none" stroke="#c8c8c8" stroke-width="0.7"/>
<line x1="360.95" y1="333.78" x2="365.19" y2="338.02" stroke="#c8c8c8" stroke-width="0.7" />
<line x1="360.95" y1="338.02" x2="365.19" y2="333.78" stroke="#c8c8c8" stroke-width="0.7" />
<text transform="translate(365.59 347.2) rotate(-90) scale(0.89 1)" font-size="7" fill="#c8c8c8" text-anchor="middle" font-weight="normal" font-style="normal" >18</text>
<line x1="360.37" y1="356.4" x2="360.37" y2="365.8" stroke="#c8c8c8" stroke-width="0.8" />
<line x1="365.67" y1="356.4" x2="365.67" y2="365.8" stroke="#c8c8c8" stroke-width="0.8" />
<rect x="359.32" y="365.8" width="7.5" height="5.8" fill="none" stroke="#c8c8c8" stroke-width="0.8" />
<line x1="359.92" y1="371" x2="366.22" y2="366.4" stroke="#c8c8c8" stroke-width="0.7" />
<line x1="369.78" y1="321.8" x2="369.78" y2="330.8" stroke="#c8c8c8" stroke-width="0.8" />
<line x1="375.08" y1="321.8" x2="375.08" y2="330.8" stroke="#c8c8c8" stroke-width="0.8" />
<circle cx="372.48" cy="335.9" r="2.95" fill="none" stroke="#c8c8c8" stroke-width="0.7"/>
<line x1="370.36" y1="333.78" x2="374.6" y2="338.02" stroke="#c8c8c8" stroke-width="0.7" />
<line x1="370.36" y1="338.02" x2="374.6" y2="333.78" stroke="#c8c8c8" stroke-width="0.7" />
<text transform="translate(375 347.2) rotate(-90) scale(0.89 1)" font-size="7" fill="#c8c8c8" text-anchor="middle" font-weight="normal" font-style="normal" >19</text>
<line x1="369.78" y1="356.4" x2="369.78" y2="365.8" stroke="#c8c8c8" stroke-width="0.8" />
<line x1="375.08" y1="356.4" x2="375.08" y2="365.8" stroke="#c8c8c8" stroke-width="0.8" />
<rect x="368.73" y="365.8" width="7.5" height="5.8" fill="none" stroke="#c8c8c8" stroke-width="0.8" />
<line x1="369.33" y1="371" x2="375.63" y2="366.4" stroke="#c8c8c8" stroke-width="0.7" />
<line x1="379.19" y1="321.8" x2="379.19" y2="330.8" stroke="#c8c8c8" stroke-width="0.8" />
<line x1="384.49" y1="321.8" x2="384.49" y2="330.8" stroke="#c8c8c8" stroke-width="0.8" />
<circle cx="381.89" cy="335.9" r="2.95" fill="none" stroke="#c8c8c8" stroke-width="0.7"/>
<line x1="379.77" y1="333.78" x2="384.01" y2="338.02" stroke="#c8c8c8" stroke-width="0.7" />
<line x1="379.77" y1="338.02" x2="384.01" y2="333.78" stroke="#c8c8c8" stroke-width="0.7" />
<text transform="translate(384.41 347.2) rotate(-90) scale(0.89 1)" font-size="7" fill="#c8c8c8" text-anchor="middle" font-weight="normal" font-style="normal" >20</text>
<line x1="379.19" y1="356.4" x2="379.19" y2="365.8" stroke="#c8c8c8" stroke-width="0.8" />
<line x1="384.49" y1="356.4" x2="384.49" y2="365.8" stroke="#c8c8c8" stroke-width="0.8" />
<rect x="378.14" y="365.8" width="7.5" height="5.8" fill="none" stroke="#c8c8c8" stroke-width="0.8" />
<line x1="378.74" y1="371" x2="385.04" y2="366.4" stroke="#c8c8c8" stroke-width="0.7" />
<line x1="388.6" y1="321.8" x2="388.6" y2="330.8" stroke="#c8c8c8" stroke-width="0.8" />
<line x1="393.9" y1="321.8" x2="393.9" y2="330.8" stroke="#c8c8c8" stroke-width="0.8" />
<circle cx="391.3" cy="335.9" r="2.95" fill="none" stroke="#c8c8c8" stroke-width="0.7"/>
<line x1="389.18" y1="333.78" x2="393.42" y2="338.02" stroke="#c8c8c8" stroke-width="0.7" />
<line x1="389.18" y1="338.02" x2="393.42" y2="333.78" stroke="#c8c8c8" stroke-width="0.7" />
<text transform="translate(393.82 347.2) rotate(-90) scale(0.89 1)" font-size="7" fill="#c8c8c8" text-anchor="middle" font-weight="normal" font-style="normal" >21</text>
<line x1="388.6" y1="356.4" x2="388.6" y2="365.8" stroke="#c8c8c8" stroke-width="0.8" />
<line x1="393.9" y1="356.4" x2="393.9" y2="365.8" stroke="#c8c8c8" stroke-width="0.8" />
<rect x="387.55" y="365.8" width="7.5" height="5.8" fill="none" stroke="#c8c8c8" stroke-width="0.8" />
<line x1="388.15" y1="371" x2="394.45" y2="366.4" stroke="#c8c8c8" stroke-width="0.7" />
<line x1="398.01" y1="321.8" x2="398.01" y2="330.8" stroke="#c8c8c8" stroke-width="0.8" />
<line x1="403.31" y1="321.8" x2="403.31" y2="330.8" stroke="#c8c8c8" stroke-width="0.8" />
<circle cx="400.71" cy="335.9" r="2.95" fill="none" stroke="#c8c8c8" stroke-width="0.7"/>
<line x1="398.59" y1="333.78" x2="402.83" y2="338.02" stroke="#c8c8c8" stroke-width="0.7" />
<line x1="398.59" y1="338.02" x2="402.83" y2="333.78" stroke="#c8c8c8" stroke-width="0.7" />
<text transform="translate(403.23 347.2) rotate(-90) scale(0.89 1)" font-size="7" fill="#c8c8c8" text-anchor="middle" font-weight="normal" font-style="normal" >22</text>
<line x1="398.01" y1="356.4" x2="398.01" y2="365.8" stroke="#c8c8c8" stroke-width="0.8" />
<line x1="403.31" y1="356.4" x2="403.31" y2="365.8" stroke="#c8c8c8" stroke-width="0.8" />
<rect x="396.96" y="365.8" width="7.5" height="5.8" fill="none" stroke="#c8c8c8" stroke-width="0.8" />
<line x1="397.56" y1="371" x2="403.86" y2="366.4" stroke="#c8c8c8" stroke-width="0.7" />
<line x1="407.42" y1="321.8" x2="407.42" y2="330.8" stroke="#c8c8c8" stroke-width="0.8" />
<line x1="412.72" y1="321.8" x2="412.72" y2="330.8" stroke="#c8c8c8" stroke-width="0.8" />
<circle cx="410.12" cy="335.9" r="2.95" fill="none" stroke="#c8c8c8" stroke-width="0.7"/>
<line x1="408" y1="333.78" x2="412.24" y2="338.02" stroke="#c8c8c8" stroke-width="0.7" />
<line x1="408" y1="338.02" x2="412.24" y2="333.78" stroke="#c8c8c8" stroke-width="0.7" />
<text transform="translate(412.64 347.2) rotate(-90) scale(0.89 1)" font-size="7" fill="#c8c8c8" text-anchor="middle" font-weight="normal" font-style="normal" >23</text>
<line x1="407.42" y1="356.4" x2="407.42" y2="365.8" stroke="#c8c8c8" stroke-width="0.8" />
<line x1="412.72" y1="356.4" x2="412.72" y2="365.8" stroke="#c8c8c8" stroke-width="0.8" />
<rect x="406.37" y="365.8" width="7.5" height="5.8" fill="none" stroke="#c8c8c8" stroke-width="0.8" />
<line x1="406.97" y1="371" x2="413.27" y2="366.4" stroke="#c8c8c8" stroke-width="0.7" />
<line x1="406.92" y1="324.5" x2="422.12" y2="324.5" stroke="#b4b4b4" stroke-width="0.8" />
<line x1="422.12" y1="324.5" x2="422.12" y2="326.6" stroke="#b4b4b4" stroke-width="0.8" />
<rect x="420.02" y="326.6" width="2.4" height="8.7" fill="none" stroke="#b4b4b4" stroke-width="0.8" />
<polyline points="411.62,328.8 418.12,328.8 418.12,336.4 421.22,336.4 421.22,335.3" fill="none" stroke="#b4b4b4" stroke-width="0.8" />
<text transform="translate(437.2 307) rotate(-90) scale(0.8 1)" font-size="7.4" fill="#222" text-anchor="middle" font-weight="normal" font-style="normal" >ZNR. 42065 0ER0</text>
<rect x="494.5" y="255.3" width="261.3" height="70.2" fill="#e2e2e2" stroke="none" stroke-width="1" />
<line x1="494.5" y1="255.3" x2="755.8" y2="255.3" stroke="#bbb" stroke-width="0.9" />
<line x1="494.5" y1="255.3" x2="494.5" y2="325.5" stroke="#1a1a1a" stroke-width="1" />
<rect x="630.7" y="310.4" width="36.5" height="15.1" fill="#fff" stroke="none" stroke-width="1" />
<text transform="translate(502 322.3)" font-size="12.2" fill="#8a8a8a" text-anchor="middle" font-weight="normal" font-style="normal" >71</text>
<text transform="translate(517.1 322.3)" font-size="12.2" fill="#8a8a8a" text-anchor="middle" font-weight="normal" font-style="normal" >72</text>
<text transform="translate(532.4 322.3)" font-size="12.2" fill="#8a8a8a" text-anchor="middle" font-weight="normal" font-style="normal" >7</text>
<text transform="translate(547.65 322.3)" font-size="12.2" fill="#8a8a8a" text-anchor="middle" font-weight="normal" font-style="normal" >8</text>
<text transform="translate(562.9 322.3)" font-size="12.2" fill="#8a8a8a" text-anchor="middle" font-weight="normal" font-style="normal" >9</text>
<text transform="translate(578.15 322.3)" font-size="12.2" fill="#8a8a8a" text-anchor="middle" font-weight="normal" font-style="normal" >20</text>
<text transform="translate(593.1 322.3)" font-size="12.2" fill="#8a8a8a" text-anchor="middle" font-weight="normal" font-style="normal" >28</text>
<text transform="translate(608.05 322.3)" font-size="12.2" fill="#8a8a8a" text-anchor="middle" font-weight="normal" font-style="normal" >A1</text>
<text transform="translate(623.15 322.3)" font-size="12.2" fill="#8a8a8a" text-anchor="middle" font-weight="normal" font-style="normal" >62</text>
<text transform="translate(640.25 322)" font-size="8.4" fill="#000" text-anchor="middle" font-weight="normal" font-style="normal" letter-spacing="0.9" stroke="#000" stroke-width="0.32">K14</text>
<text transform="translate(658.5 322)" font-size="8.4" fill="#000" text-anchor="middle" font-weight="normal" font-style="normal" letter-spacing="0.9" stroke="#000" stroke-width="0.32">K12</text>
<line x1="494.5" y1="310.4" x2="494.5" y2="325.5" stroke="#888" stroke-width="0.9" />
<line x1="509.5" y1="310.4" x2="509.5" y2="325.5" stroke="#555" stroke-width="0.9" />
<line x1="524.7" y1="310.4" x2="524.7" y2="325.5" stroke="#666" stroke-width="0.9" />
<line x1="540.1" y1="310.4" x2="540.1" y2="325.5" stroke="#ccc" stroke-width="0.9" />
<line x1="555.2" y1="310.4" x2="555.2" y2="325.5" stroke="#ccc" stroke-width="0.9" />
<line x1="570.6" y1="310.4" x2="570.6" y2="325.5" stroke="#999" stroke-width="0.9" />
<line x1="585.7" y1="310.4" x2="585.7" y2="325.5" stroke="#777" stroke-width="0.9" />
<line x1="600.5" y1="310.4" x2="600.5" y2="325.5" stroke="#777" stroke-width="0.9" />
<line x1="615.6" y1="310.4" x2="615.6" y2="325.5" stroke="#999" stroke-width="0.9" />
<line x1="630.7" y1="310.4" x2="630.7" y2="325.5" stroke="#bbb" stroke-width="0.9" />
<line x1="494.5" y1="325.5" x2="630.7" y2="325.5" stroke="#222" stroke-width="0.9" />
<line x1="494.5" y1="310.4" x2="630.7" y2="310.4" stroke="#666" stroke-width="0.8" />
<line x1="667.2" y1="325.5" x2="683.9" y2="325.5" stroke="#999" stroke-width="0.8" />
<text x="502.8" y="275.5" font-size="11.9" fill="#222" letter-spacing="0.25">Lenze: <tspan font-style="italic">smd</tspan></text>
<polyline points="637.5,310.4 637.5,295.6 642.3,295.6" fill="none" stroke="#222" stroke-width="0.9" />
<circle cx="642.3" cy="295.6" r="1.3" fill="#000" stroke="none" stroke-width="0"/>
<line x1="642.3" y1="295.6" x2="654.2" y2="291.5" stroke="#222" stroke-width="0.9" />
<polyline points="654.7,295.6 659.5,295.6 659.5,310.4" fill="none" stroke="#222" stroke-width="0.9" />
<polyline points="229.5,161.5 229.5,277.4" fill="none" stroke="#111" stroke-width="1" />
<polyline points="233.5,298 233.5,250.5 454.5,250.5 454.5,343.5 659.5,343.5 659.5,325.5" fill="none" stroke="#1a1a1a" stroke-width="1" />
<polyline points="466.5,138.5 466.5,333.5 637.5,333.5 637.5,325.5" fill="none" stroke="#1a1a1a" stroke-width="1" />
<circle cx="229.6" cy="161.5" r="1.5" fill="#000" stroke="none" stroke-width="0"/>
<circle cx="466.5" cy="138.5" r="1.5" fill="#000" stroke="none" stroke-width="0"/>
<rect x="463.5" y="269.5" width="6.1" height="19" fill="#fff" stroke="#222" stroke-width="0.95" />
<line x1="469.6" y1="270.1" x2="469.6" y2="287.9" stroke="#ddd" stroke-width="1.1" />
<line x1="466.5" y1="269.5" x2="466.5" y2="288.5" stroke="#111" stroke-width="1" />
<rect x="683.9" y="255.3" width="18.6" height="15.2" fill="#fff" stroke="none" stroke-width="1" />
<rect x="683.9" y="310.3" width="18.6" height="15.2" fill="#fff" stroke="none" stroke-width="1" />
<rect x="710.4" y="255.3" width="45.4" height="15.2" fill="#fff" stroke="none" stroke-width="1" />
<rect x="710.4" y="310.3" width="45.4" height="15.2" fill="#fff" stroke="none" stroke-width="1" />
<text transform="translate(692.6 267.1)" font-size="11.6" fill="#111" text-anchor="middle" font-weight="normal" font-style="normal" >PE</text>
<text transform="translate(692.6 322.1)" font-size="11.6" fill="#111" text-anchor="middle" font-weight="normal" font-style="normal" >PE</text>
<text transform="translate(718.3 267.1)" font-size="11.6" fill="#111" text-anchor="middle" font-weight="normal" font-style="normal" >L1</text>
<text transform="translate(718.3 322.1)" font-size="11.6" fill="#111" text-anchor="middle" font-weight="normal" font-style="normal" >U</text>
<text transform="translate(733.4 267.1)" font-size="11.6" fill="#111" text-anchor="middle" font-weight="normal" font-style="normal" >L2</text>
<text transform="translate(733.4 322.1)" font-size="11.6" fill="#111" text-anchor="middle" font-weight="normal" font-style="normal" >V</text>
<text transform="translate(748.5 267.1)" font-size="11.6" fill="#111" text-anchor="middle" font-weight="normal" font-style="normal" >L3</text>
<text transform="translate(748.5 322.1)" font-size="11.6" fill="#111" text-anchor="middle" font-weight="normal" font-style="normal" >W</text>
<line x1="683.9" y1="310.3" x2="683.9" y2="325.5" stroke="#999" stroke-width="0.9" />
<line x1="702.5" y1="255.3" x2="702.5" y2="270.5" stroke="#ccc" stroke-width="0.9" />
<line x1="702.5" y1="310.3" x2="702.5" y2="325.5" stroke="#ccc" stroke-width="0.9" />
<line x1="710.4" y1="255.3" x2="710.4" y2="270.5" stroke="#444" stroke-width="0.9" />
<line x1="710.4" y1="310.3" x2="710.4" y2="325.5" stroke="#444" stroke-width="0.9" />
<line x1="725.6" y1="255.3" x2="725.6" y2="270.5" stroke="#444" stroke-width="0.9" />
<line x1="725.6" y1="310.3" x2="725.6" y2="325.5" stroke="#333" stroke-width="0.9" />
<line x1="740.6" y1="255.3" x2="740.6" y2="270.5" stroke="#777" stroke-width="0.9" />
<line x1="740.6" y1="310.3" x2="740.6" y2="325.5" stroke="#555" stroke-width="0.9" />
<line x1="683.9" y1="310.3" x2="702.5" y2="310.3" stroke="#999" stroke-width="0.7" />
<line x1="710.4" y1="310.3" x2="755.8" y2="310.3" stroke="#333" stroke-width="1" />
<line x1="683.9" y1="325.5" x2="702.5" y2="325.5" stroke="#999" stroke-width="0.7" />
<line x1="710.4" y1="325.5" x2="755.8" y2="325.5" stroke="#666" stroke-width="0.9" />
<line x1="719" y1="138.4" x2="719" y2="206.5" stroke="#999" stroke-width="1" />
<rect x="715.7" y="180.2" width="6.6" height="19.3" fill="#fff" stroke="#666" stroke-width="0.9" />
<line x1="719" y1="180.2" x2="719" y2="199.5" stroke="#999" stroke-width="1" />
<circle cx="719" cy="138.4" r="1.5" fill="#000" stroke="none" stroke-width="0"/>
<line x1="714" y1="207" x2="719.4" y2="218.7" stroke="#222" stroke-width="0.9" />
<line x1="719" y1="241.6" x2="719" y2="255.3" stroke="#999" stroke-width="1" />
<line x1="719" y1="325.5" x2="719" y2="351.6" stroke="#999" stroke-width="1" />
<line x1="733.5" y1="146.1" x2="733.5" y2="206.5" stroke="#aaa" stroke-width="1" />
<rect x="730.2" y="180.2" width="6.6" height="19.3" fill="#fff" stroke="#666" stroke-width="0.9" />
<line x1="733.5" y1="180.2" x2="733.5" y2="199.5" stroke="#aaa" stroke-width="1" />
<circle cx="733.5" cy="146.1" r="1.5" fill="#000" stroke="none" stroke-width="0"/>
<line x1="728.5" y1="207" x2="733.9" y2="218.7" stroke="#222" stroke-width="0.9" />
<line x1="733.5" y1="241.6" x2="733.5" y2="255.3" stroke="#aaa" stroke-width="1" />
<line x1="733.5" y1="325.5" x2="733.5" y2="359.1" stroke="#bbb" stroke-width="1" />
<line x1="748.6" y1="153.7" x2="748.6" y2="206.5" stroke="#000" stroke-width="1" />
<rect x="745.3" y="180.2" width="6.6" height="19.3" fill="none" stroke="#000" stroke-width="0.9" />
<line x1="748.6" y1="180.2" x2="748.6" y2="199.5" stroke="#000" stroke-width="1" />
<circle cx="748.6" cy="153.7" r="1.5" fill="#000" stroke="none" stroke-width="0"/>
<line x1="743.6" y1="207" x2="749" y2="218.7" stroke="#222" stroke-width="0.9" />
<line x1="748.6" y1="241.6" x2="748.6" y2="255.3" stroke="#000" stroke-width="1" />
<line x1="748.6" y1="325.5" x2="748.6" y2="351.6" stroke="#333" stroke-width="1" />
<rect x="712.2" y="218.7" width="43.6" height="22.9" fill="#fff" stroke="#222" stroke-width="1" />
<line x1="712.2" y1="230.6" x2="755.8" y2="230.6" stroke="#333" stroke-width="0.9" />
<line x1="726.3" y1="218.7" x2="726.3" y2="241.6" stroke="#222" stroke-width="1" />
<line x1="740.6" y1="218.7" x2="740.6" y2="241.6" stroke="#222" stroke-width="1" />
<polyline points="719,218.7 719,222.27 722.6,222.27 722.6,227.27 719,227.27 719,230.6" fill="none" stroke="#222" stroke-width="1.15" />
<text x="720.25" y="239.1" font-size="10.2" fill="#333" text-anchor="middle" letter-spacing="1.3">I&gt;</text>
<polyline points="733.5,218.7 733.5,222.27 737.1,222.27 737.1,227.27 733.5,227.27 733.5,230.6" fill="none" stroke="#222" stroke-width="1.15" />
<text x="734.45" y="239.1" font-size="10.2" fill="#333" text-anchor="middle" letter-spacing="1.3">I&gt;</text>
<polyline points="748.6,218.7 748.6,222.27 752.2,222.27 752.2,227.27 748.6,227.27 748.6,230.6" fill="none" stroke="#222" stroke-width="1.15" />
<text x="749.2" y="239.1" font-size="10.2" fill="#333" text-anchor="middle" letter-spacing="1.3">I&gt;</text>
<line x1="695.6" y1="213.6" x2="746.1" y2="213.6" stroke="#333" stroke-width="0.8" stroke-dasharray="3 2"/>
<line x1="695.6" y1="209.1" x2="695.6" y2="218.1" stroke="#222" stroke-width="0.9" />
<rect x="699.5" y="208.5" width="9.8" height="10.2" fill="none" stroke="#777" stroke-width="0.8" />
<line x1="704.4" y1="208.5" x2="704.4" y2="236.1" stroke="#555" stroke-width="0.8" stroke-dasharray="2.5 2"/>
<line x1="704.4" y1="225.2" x2="712.2" y2="225.2" stroke="#555" stroke-width="0.9" stroke-dasharray="2.5 2"/>
<line x1="704.4" y1="236.1" x2="712.2" y2="236.1" stroke="#444" stroke-width="0.8" stroke-dasharray="2.5 2"/>
<line x1="691.5" y1="172.3" x2="691.5" y2="255.3" stroke="#000" stroke-width="1.1" />
<circle cx="691.5" cy="172.3" r="1.5" fill="#000" stroke="none" stroke-width="0"/>
<circle cx="733.7" cy="377.7" r="18.5" fill="#fff" stroke="#222" stroke-width="0.9"/>
<polyline points="692.5,325.5 692.5,352.3 716.3,372.2" fill="none" stroke="#222" stroke-width="0.9" />
<polyline points="718.8,351.6 726,361.5 717.6,383.5" fill="none" stroke="#222" stroke-width="0.9" />
<polyline points="748.5,351.6 741.3,361 751.4,384.3" fill="none" stroke="#222" stroke-width="0.9" />
<circle cx="716.3" cy="372.2" r="1.2" fill="#000" stroke="none" stroke-width="0"/>
<line x1="90" y1="705.5" x2="752.9" y2="705.5" stroke="#666" stroke-width="1" />
<text transform="translate(75.7 706.9) scale(0.88 1)" font-size="7.7" fill="#999" text-anchor="start" font-weight="normal" font-style="normal" >L1</text>
<line x1="90" y1="713.5" x2="752.9" y2="713.5" stroke="#d0d0d0" stroke-width="1" />
<text transform="translate(75.7 714.9) scale(0.88 1)" font-size="7.7" fill="#aaa" text-anchor="start" font-weight="normal" font-style="normal" >L2</text>
<line x1="90" y1="720.5" x2="752.9" y2="720.5" stroke="#777" stroke-width="1" />
<text transform="translate(75.7 721.9) scale(0.88 1)" font-size="7.7" fill="#999" text-anchor="start" font-weight="normal" font-style="normal" >L3</text>
<line x1="90" y1="727.5" x2="752.9" y2="727.5" stroke="#666" stroke-width="1" />
<text transform="translate(75.7 728.9) scale(0.88 1)" font-size="7.7" fill="#888" text-anchor="start" font-weight="normal" font-style="normal" >N</text>
<line x1="90" y1="738.5" x2="752.9" y2="738.5" stroke="#555" stroke-width="1" />
<text transform="translate(75.7 739.9) scale(0.88 1)" font-size="7.7" fill="#888" text-anchor="start" font-weight="normal" font-style="normal" >PE</text>
<polyline points="95.1,843.5 77.4,843.5 83,885.3 76.4,915.5 82.5,936.1 77.4,959.1 132.6,956.2 148.3,950.6 207.5,957.1 259.3,949.9 325.9,957.4 367,950.6 411.7,959.1 411.7,843.5 398.4,843.5" fill="none" stroke="#000" stroke-width="1.6" stroke-linejoin="miter"/>
<line x1="169.1" y1="843.5" x2="189.4" y2="843.5" stroke="#000" stroke-width="1.6" />
<polyline points="95.1,859.3 95.1,836.7 99.05,836.7 99.05,839.4 101.95,839.4 101.95,836.7 108.07,836.7 108.07,839.4 110.97,839.4 110.97,836.7 117.09,836.7 117.09,839.4 119.99,839.4 119.99,836.7 126.11,836.7 126.11,839.4 129.01,839.4 129.01,836.7 135.13,836.7 135.13,839.4 138.03,839.4 138.03,836.7 144.15,836.7 144.15,839.4 147.05,839.4 147.05,836.7 153.17,836.7 153.17,839.4 156.07,839.4 156.07,836.7 162.19,836.7 162.19,839.4 165.09,839.4 165.09,836.7 169.1,836.7 169.1,859.3 95.1,859.3" fill="#fff" stroke="#111" stroke-width="1.15" />
<text transform="translate(102.95 847.4) rotate(-90) scale(0.89 1)" font-size="6.8" fill="#555" text-anchor="middle" font-weight="normal" font-style="normal" >13</text>
<text transform="translate(111.97 847.4) rotate(-90) scale(0.89 1)" font-size="6.8" fill="#aaa" text-anchor="middle" font-weight="normal" font-style="normal" >14</text>
<text transform="translate(120.99 847.4) rotate(-90) scale(0.89 1)" font-size="6.8" fill="#ccc" text-anchor="middle" font-weight="normal" font-style="normal" >23</text>
<text transform="translate(130.01 847.4) rotate(-90) scale(0.89 1)" font-size="6.8" fill="#bbb" text-anchor="middle" font-weight="normal" font-style="normal" >24</text>
<text transform="translate(139.03 847.4) rotate(-90) scale(0.89 1)" font-size="6.8" fill="#ccc" text-anchor="middle" font-weight="normal" font-style="normal" >33</text>
<text transform="translate(148.05 847.4) rotate(-90) scale(0.89 1)" font-size="6.8" fill="#bbb" text-anchor="middle" font-weight="normal" font-style="normal" >34</text>
<text transform="translate(157.07 847.4) rotate(-90) scale(0.89 1)" font-size="6.8" fill="#999" text-anchor="middle" font-weight="normal" font-style="normal" >43</text>
<text transform="translate(166.09 847.4) rotate(-90) scale(0.89 1)" font-size="6.8" fill="#888" text-anchor="middle" font-weight="normal" font-style="normal" >44</text>
<polyline points="100.2,864.1 100.2,880.5 109.5,880.5 111.9,867.6" fill="none" stroke="#555" stroke-width="1" />
<line x1="109.5" y1="864.1" x2="109.5" y2="867.6" stroke="#888" stroke-width="1" />
<text transform="translate(107.3 891.8) rotate(-90) scale(0.89 1)" font-size="6.8" fill="#555" text-anchor="middle" font-weight="normal" font-style="normal" >1</text>
<polyline points="118.2,864.1 118.2,880.5 127.5,880.5 129.9,867.6" fill="none" stroke="#555" stroke-width="1" />
<line x1="127.5" y1="864.1" x2="127.5" y2="867.6" stroke="#888" stroke-width="1" />
<text transform="translate(125.3 891.8) rotate(-90) scale(0.89 1)" font-size="6.8" fill="#555" text-anchor="middle" font-weight="normal" font-style="normal" >2</text>
<polyline points="136.2,864.1 136.2,880.5 145.5,880.5 147.9,867.6" fill="none" stroke="#555" stroke-width="1" />
<line x1="145.5" y1="864.1" x2="145.5" y2="867.6" stroke="#888" stroke-width="1" />
<text transform="translate(143.3 891.8) rotate(-90) scale(0.89 1)" font-size="6.8" fill="#555" text-anchor="middle" font-weight="normal" font-style="normal" >3</text>
<polyline points="154.2,864.1 154.2,880.5 163.5,880.5 165.9,867.6" fill="none" stroke="#555" stroke-width="1" />
<line x1="163.5" y1="864.1" x2="163.5" y2="867.6" stroke="#888" stroke-width="1" />
<text transform="translate(161.3 891.8) rotate(-90) scale(0.89 1)" font-size="6.8" fill="#555" text-anchor="middle" font-weight="normal" font-style="normal" >4</text>
<circle cx="132.6" cy="918.4" r="8.2" fill="none" stroke="#555" stroke-width="0.7"/>
<circle cx="133.1" cy="918.1" r="7.5" fill="none" stroke="#888" stroke-width="0.5"/>
<rect x="189.4" y="836.7" width="209" height="22.6" fill="#fff" stroke="none" stroke-width="1" />
<polyline points="193.8,859.3 189.4,859.3 189.4,836.7 193.15,836.7 193.15,839.4 196.05,839.4 196.05,836.7 202.17,836.7 202.17,839.4 205.07,839.4 205.07,836.7 211.19,836.7 211.19,839.4 214.09,839.4 214.09,836.7 220.21,836.7 220.21,839.4 223.11,839.4 223.11,836.7 229.23,836.7 229.23,839.4 232.13,839.4 232.13,836.7 238.25,836.7 238.25,839.4 241.15,839.4 241.15,836.7 247.27,836.7 247.27,839.4 250.17,839.4 250.17,836.7 256.29,836.7 256.29,839.4 259.19,839.4 259.19,836.7 265.31,836.7 265.31,839.4 268.21,839.4 268.21,836.7 274.33,836.7 274.33,839.4 277.23,839.4 277.23,836.7 283.35,836.7 283.35,839.4 286.25,839.4 286.25,836.7 292.37,836.7 292.37,839.4 295.27,839.4 295.27,836.7 301.39,836.7 301.39,839.4 304.29,839.4 304.29,836.7 310.41,836.7 310.41,839.4 313.31,839.4 313.31,836.7 319.43,836.7 319.43,839.4 322.33,839.4 322.33,836.7 328.45,836.7 328.45,839.4 331.35,839.4 331.35,836.7 337.47,836.7 337.47,839.4 340.37,839.4 340.37,836.7 346.49,836.7 346.49,839.4 349.39,839.4 349.39,836.7 355.51,836.7 355.51,839.4 358.41,839.4 358.41,836.7 364.53,836.7 364.53,839.4 367.43,839.4 367.43,836.7 373.55,836.7 373.55,839.4 376.45,839.4 376.45,836.7 382.57,836.7 382.57,839.4 385.47,839.4 385.47,836.7 391.59,836.7 391.59,839.4 394.49,839.4 394.49,836.7 398.4,836.7 398.4,856" fill="none" stroke="#111" stroke-width="1.15" />
<text transform="translate(196.85 847.4) rotate(-90) scale(0.89 1)" font-size="6.8" fill="#d8d8d8" text-anchor="middle" font-weight="normal" font-style="normal" >50</text>
<text transform="translate(205.86 847.4) rotate(-90) scale(0.89 1)" font-size="6.8" fill="#d8d8d8" text-anchor="middle" font-weight="normal" font-style="normal" >52</text>
<text transform="translate(214.87 847.4) rotate(-90) scale(0.89 1)" font-size="6.8" fill="#d8d8d8" text-anchor="middle" font-weight="normal" font-style="normal" >54</text>
<text transform="translate(223.88 847.4) rotate(-90) scale(0.89 1)" font-size="6.8" fill="#d8d8d8" text-anchor="middle" font-weight="normal" font-style="normal" >56</text>
<text transform="translate(232.89 847.4) rotate(-90) scale(0.89 1)" font-size="6.8" fill="#d8d8d8" text-anchor="middle" font-weight="normal" font-style="normal" >58</text>
<text transform="translate(241.9 847.4) rotate(-90) scale(0.89 1)" font-size="6.8" fill="#d8d8d8" text-anchor="middle" font-weight="normal" font-style="normal" >60</text>
<text transform="translate(250.91 847.4) rotate(-90) scale(0.89 1)" font-size="6.8" fill="#d8d8d8" text-anchor="middle" font-weight="normal" font-style="normal" >62</text>
<text transform="translate(259.92 847.4) rotate(-90) scale(0.89 1)" font-size="6.8" fill="#d8d8d8" text-anchor="middle" font-weight="normal" font-style="normal" >64</text>
<text transform="translate(268.93 847.4) rotate(-90) scale(0.89 1)" font-size="6.8" fill="#d8d8d8" text-anchor="middle" font-weight="normal" font-style="normal" >66</text>
<text transform="translate(277.94 847.4) rotate(-90) scale(0.89 1)" font-size="6.8" fill="#d8d8d8" text-anchor="middle" font-weight="normal" font-style="normal" >68</text>
<text transform="translate(286.95 847.4) rotate(-90) scale(0.89 1)" font-size="6.8" fill="#d8d8d8" text-anchor="middle" font-weight="normal" font-style="normal" >70</text>
<text transform="translate(295.96 847.4) rotate(-90) scale(0.89 1)" font-size="6.8" fill="#000" text-anchor="middle" font-weight="bold" font-style="normal" >72</text>
<text transform="translate(304.97 847.4) rotate(-90) scale(0.89 1)" font-size="6.8" fill="#d8d8d8" text-anchor="middle" font-weight="normal" font-style="normal" >74</text>
<text transform="translate(313.98 847.4) rotate(-90) scale(0.89 1)" font-size="6.8" fill="#d8d8d8" text-anchor="middle" font-weight="normal" font-style="normal" >76</text>
<text transform="translate(322.99 847.4) rotate(-90) scale(0.89 1)" font-size="6.8" fill="#d8d8d8" text-anchor="middle" font-weight="normal" font-style="normal" >78</text>
<text transform="translate(332 847.4) rotate(-90) scale(0.89 1)" font-size="6.8" fill="#d8d8d8" text-anchor="middle" font-weight="normal" font-style="normal" >80</text>
<text transform="translate(341.01 847.4) rotate(-90) scale(0.89 1)" font-size="6.8" fill="#d8d8d8" text-anchor="middle" font-weight="normal" font-style="normal" >82</text>
<text transform="translate(350.02 847.4) rotate(-90) scale(0.89 1)" font-size="6.8" fill="#d8d8d8" text-anchor="middle" font-weight="normal" font-style="normal" >84</text>
<text transform="translate(359.03 847.4) rotate(-90) scale(0.89 1)" font-size="6.8" fill="#d8d8d8" text-anchor="middle" font-weight="normal" font-style="normal" >86</text>
<text transform="translate(368.04 847.4) rotate(-90) scale(0.89 1)" font-size="6.8" fill="#d8d8d8" text-anchor="middle" font-weight="normal" font-style="normal" >88</text>
<text transform="translate(377.05 847.4) rotate(-90) scale(0.89 1)" font-size="6.8" fill="#d8d8d8" text-anchor="middle" font-weight="normal" font-style="normal" >90</text>
<text transform="translate(386.06 847.4) rotate(-90) scale(0.89 1)" font-size="6.8" fill="#d8d8d8" text-anchor="middle" font-weight="normal" font-style="normal" >92</text>
<text transform="translate(395.07 847.4) rotate(-90) scale(0.89 1)" font-size="6.8" fill="#d8d8d8" text-anchor="middle" font-weight="normal" font-style="normal" >94</text>
<rect x="193.8" y="856" width="208.7" height="19.5" fill="#fff" stroke="none" stroke-width="1" />
<line x1="193.8" y1="856" x2="402.5" y2="856" stroke="#c4c4c4" stroke-width="0.9" />
<line x1="193.8" y1="856" x2="193.8" y2="875.5" stroke="#bbb" stroke-width="0.9" />
<polyline points="197.85,856 197.85,858.9 200.75,858.9" fill="none" stroke="#c4c4c4" stroke-width="0.9" />
<line x1="200.75" y1="855.7" x2="200.75" y2="859.1" stroke="#333" stroke-width="1" />
<polyline points="206.85,856 206.85,858.9 209.75,858.9" fill="none" stroke="#c4c4c4" stroke-width="0.9" />
<line x1="209.75" y1="855.7" x2="209.75" y2="859.1" stroke="#333" stroke-width="1" />
<polyline points="215.85,856 215.85,858.9 218.75,858.9" fill="none" stroke="#c4c4c4" stroke-width="0.9" />
<line x1="218.75" y1="855.7" x2="218.75" y2="859.1" stroke="#333" stroke-width="1" />
<polyline points="224.85,856 224.85,858.9 227.75,858.9" fill="none" stroke="#c4c4c4" stroke-width="0.9" />
<line x1="227.75" y1="855.7" x2="227.75" y2="859.1" stroke="#333" stroke-width="1" />
<polyline points="233.85,856 233.85,858.9 236.75,858.9" fill="none" stroke="#c4c4c4" stroke-width="0.9" />
<line x1="236.75" y1="855.7" x2="236.75" y2="859.1" stroke="#333" stroke-width="1" />
<polyline points="242.85,856 242.85,858.9 245.75,858.9" fill="none" stroke="#c4c4c4" stroke-width="0.9" />
<line x1="245.75" y1="855.7" x2="245.75" y2="859.1" stroke="#333" stroke-width="1" />
<polyline points="251.85,856 251.85,858.9 254.75,858.9" fill="none" stroke="#c4c4c4" stroke-width="0.9" />
<line x1="254.75" y1="855.7" x2="254.75" y2="859.1" stroke="#333" stroke-width="1" />
<polyline points="260.85,856 260.85,858.9 263.75,858.9" fill="none" stroke="#c4c4c4" stroke-width="0.9" />
<line x1="263.75" y1="855.7" x2="263.75" y2="859.1" stroke="#333" stroke-width="1" />
<polyline points="269.85,856 269.85,858.9 272.75,858.9" fill="none" stroke="#c4c4c4" stroke-width="0.9" />
<line x1="272.75" y1="855.7" x2="272.75" y2="859.1" stroke="#333" stroke-width="1" />
<polyline points="278.85,856 278.85,858.9 281.75,858.9" fill="none" stroke="#c4c4c4" stroke-width="0.9" />
<line x1="281.75" y1="855.7" x2="281.75" y2="859.1" stroke="#333" stroke-width="1" />
<polyline points="287.85,856 287.85,858.9 290.75,858.9" fill="none" stroke="#c4c4c4" stroke-width="0.9" />
<line x1="290.75" y1="855.7" x2="290.75" y2="859.1" stroke="#333" stroke-width="1" />
<polyline points="296.85,856 296.85,858.9 299.75,858.9" fill="none" stroke="#c4c4c4" stroke-width="0.9" />
<line x1="299.75" y1="855.7" x2="299.75" y2="859.1" stroke="#333" stroke-width="1" />
<polyline points="305.85,856 305.85,858.9 308.75,858.9" fill="none" stroke="#c4c4c4" stroke-width="0.9" />
<line x1="308.75" y1="855.7" x2="308.75" y2="859.1" stroke="#333" stroke-width="1" />
<polyline points="314.85,856 314.85,858.9 317.75,858.9" fill="none" stroke="#c4c4c4" stroke-width="0.9" />
<line x1="317.75" y1="855.7" x2="317.75" y2="859.1" stroke="#333" stroke-width="1" />
<polyline points="323.85,856 323.85,858.9 326.75,858.9" fill="none" stroke="#c4c4c4" stroke-width="0.9" />
<line x1="326.75" y1="855.7" x2="326.75" y2="859.1" stroke="#333" stroke-width="1" />
<polyline points="332.85,856 332.85,858.9 335.75,858.9" fill="none" stroke="#c4c4c4" stroke-width="0.9" />
<line x1="335.75" y1="855.7" x2="335.75" y2="859.1" stroke="#333" stroke-width="1" />
<polyline points="341.85,856 341.85,858.9 344.75,858.9" fill="none" stroke="#c4c4c4" stroke-width="0.9" />
<line x1="344.75" y1="855.7" x2="344.75" y2="859.1" stroke="#333" stroke-width="1" />
<polyline points="350.85,856 350.85,858.9 353.75,858.9" fill="none" stroke="#c4c4c4" stroke-width="0.9" />
<line x1="353.75" y1="855.7" x2="353.75" y2="859.1" stroke="#333" stroke-width="1" />
<polyline points="359.85,856 359.85,858.9 362.75,858.9" fill="none" stroke="#c4c4c4" stroke-width="0.9" />
<line x1="362.75" y1="855.7" x2="362.75" y2="859.1" stroke="#333" stroke-width="1" />
<polyline points="368.85,856 368.85,858.9 371.75,858.9" fill="none" stroke="#c4c4c4" stroke-width="0.9" />
<line x1="371.75" y1="855.7" x2="371.75" y2="859.1" stroke="#333" stroke-width="1" />
<polyline points="377.85,856 377.85,858.9 380.75,858.9" fill="none" stroke="#c4c4c4" stroke-width="0.9" />
<line x1="380.75" y1="855.7" x2="380.75" y2="859.1" stroke="#333" stroke-width="1" />
<polyline points="386.85,856 386.85,858.9 389.75,858.9" fill="none" stroke="#c4c4c4" stroke-width="0.9" />
<line x1="389.75" y1="855.7" x2="389.75" y2="859.1" stroke="#333" stroke-width="1" />
<polyline points="395.85,856 395.85,858.9 398.75,858.9" fill="none" stroke="#c4c4c4" stroke-width="0.9" />
<line x1="398.75" y1="855.7" x2="398.75" y2="859.1" stroke="#333" stroke-width="1" />
<polyline points="193.8,875.5 402.5,875.5 402.5,856" fill="none" stroke="#222" stroke-width="1.1" />
<text transform="translate(201.85 868) rotate(-90) scale(0.89 1)" font-size="6.8" fill="#d8d8d8" text-anchor="middle" font-weight="normal" font-style="normal" >51</text>
<text transform="translate(210.86 868) rotate(-90) scale(0.89 1)" font-size="6.8" fill="#d8d8d8" text-anchor="middle" font-weight="normal" font-style="normal" >53</text>
<text transform="translate(219.87 868) rotate(-90) scale(0.89 1)" font-size="6.8" fill="#d8d8d8" text-anchor="middle" font-weight="normal" font-style="normal" >55</text>
<text transform="translate(228.88 868) rotate(-90) scale(0.89 1)" font-size="6.8" fill="#d8d8d8" text-anchor="middle" font-weight="normal" font-style="normal" >57</text>
<text transform="translate(237.89 868) rotate(-90) scale(0.89 1)" font-size="6.8" fill="#d8d8d8" text-anchor="middle" font-weight="normal" font-style="normal" >59</text>
<text transform="translate(246.9 868) rotate(-90) scale(0.89 1)" font-size="6.8" fill="#d8d8d8" text-anchor="middle" font-weight="normal" font-style="normal" >61</text>
<text transform="translate(255.91 868) rotate(-90) scale(0.89 1)" font-size="6.8" fill="#d8d8d8" text-anchor="middle" font-weight="normal" font-style="normal" >63</text>
<text transform="translate(264.92 868) rotate(-90) scale(0.89 1)" font-size="6.8" fill="#d8d8d8" text-anchor="middle" font-weight="normal" font-style="normal" >65</text>
<text transform="translate(273.93 868) rotate(-90) scale(0.89 1)" font-size="6.8" fill="#d8d8d8" text-anchor="middle" font-weight="normal" font-style="normal" >67</text>
<text transform="translate(282.94 868) rotate(-90) scale(0.89 1)" font-size="6.8" fill="#d8d8d8" text-anchor="middle" font-weight="normal" font-style="normal" >69</text>
<text transform="translate(291.95 868) rotate(-90) scale(0.89 1)" font-size="6.8" fill="#d8d8d8" text-anchor="middle" font-weight="normal" font-style="normal" >71</text>
<text transform="translate(300.96 868) rotate(-90) scale(0.89 1)" font-size="6.8" fill="#000" text-anchor="middle" font-weight="bold" font-style="normal" >73</text>
<text transform="translate(309.97 868) rotate(-90) scale(0.89 1)" font-size="6.8" fill="#d8d8d8" text-anchor="middle" font-weight="normal" font-style="normal" >75</text>
<text transform="translate(318.98 868) rotate(-90) scale(0.89 1)" font-size="6.8" fill="#d8d8d8" text-anchor="middle" font-weight="normal" font-style="normal" >77</text>
<text transform="translate(327.99 868) rotate(-90) scale(0.89 1)" font-size="6.8" fill="#d8d8d8" text-anchor="middle" font-weight="normal" font-style="normal" >79</text>
<text transform="translate(337 868) rotate(-90) scale(0.89 1)" font-size="6.8" fill="#d8d8d8" text-anchor="middle" font-weight="normal" font-style="normal" >81</text>
<text transform="translate(346.01 868) rotate(-90) scale(0.89 1)" font-size="6.8" fill="#d8d8d8" text-anchor="middle" font-weight="normal" font-style="normal" >83</text>
<text transform="translate(355.02 868) rotate(-90) scale(0.89 1)" font-size="6.8" fill="#d8d8d8" text-anchor="middle" font-weight="normal" font-style="normal" >85</text>
<text transform="translate(364.03 868) rotate(-90) scale(0.89 1)" font-size="6.8" fill="#d8d8d8" text-anchor="middle" font-weight="normal" font-style="normal" >87</text>
<text transform="translate(373.04 868) rotate(-90) scale(0.89 1)" font-size="6.8" fill="#d8d8d8" text-anchor="middle" font-weight="normal" font-style="normal" >89</text>
<text transform="translate(382.05 868) rotate(-90) scale(0.89 1)" font-size="6.8" fill="#d8d8d8" text-anchor="middle" font-weight="normal" font-style="normal" >91</text>
<text transform="translate(391.06 868) rotate(-90) scale(0.89 1)" font-size="6.8" fill="#d8d8d8" text-anchor="middle" font-weight="normal" font-style="normal" >93</text>
<text transform="translate(400.07 868) rotate(-90) scale(0.89 1)" font-size="6.8" fill="#d8d8d8" text-anchor="middle" font-weight="normal" font-style="normal" >95</text>
<line x1="194.6" y1="881.5" x2="194.6" y2="890.2" stroke="#d8d8d8" stroke-width="0.8" />
<line x1="199.3" y1="881.5" x2="199.3" y2="890.2" stroke="#d8d8d8" stroke-width="0.8" />
<circle cx="196.8" cy="894.7" r="2.6" fill="none" stroke="#d8d8d8" stroke-width="0.7"/>
<circle cx="196.8" cy="894.7" r="0.8" fill="#d8d8d8" stroke="none" stroke-width="0"/>
<text transform="translate(199.25 905) rotate(-90) scale(0.89 1)" font-size="6.8" fill="#d8d8d8" text-anchor="middle" font-weight="normal" font-style="normal" >1</text>
<line x1="194.6" y1="914.9" x2="194.6" y2="923.6" stroke="#d8d8d8" stroke-width="0.8" />
<line x1="199.3" y1="914.9" x2="199.3" y2="923.6" stroke="#d8d8d8" stroke-width="0.8" />
<rect x="193" y="923.6" width="7.6" height="5.8" fill="none" stroke="#d8d8d8" stroke-width="0.8" />
<line x1="193.6" y1="928.8" x2="200" y2="924.2" stroke="#d8d8d8" stroke-width="0.7" />
<line x1="203.62" y1="881.5" x2="203.62" y2="890.2" stroke="#d8d8d8" stroke-width="0.8" />
<line x1="208.32" y1="881.5" x2="208.32" y2="890.2" stroke="#d8d8d8" stroke-width="0.8" />
<circle cx="205.82" cy="894.7" r="2.6" fill="none" stroke="#d8d8d8" stroke-width="0.7"/>
<circle cx="205.82" cy="894.7" r="0.8" fill="#d8d8d8" stroke="none" stroke-width="0"/>
<text transform="translate(208.27 905) rotate(-90) scale(0.89 1)" font-size="6.8" fill="#d8d8d8" text-anchor="middle" font-weight="normal" font-style="normal" >2</text>
<line x1="203.62" y1="914.9" x2="203.62" y2="923.6" stroke="#d8d8d8" stroke-width="0.8" />
<line x1="208.32" y1="914.9" x2="208.32" y2="923.6" stroke="#d8d8d8" stroke-width="0.8" />
<rect x="202.02" y="923.6" width="7.6" height="5.8" fill="none" stroke="#d8d8d8" stroke-width="0.8" />
<line x1="202.62" y1="928.8" x2="209.02" y2="924.2" stroke="#d8d8d8" stroke-width="0.7" />
<line x1="212.64" y1="881.5" x2="212.64" y2="890.2" stroke="#d8d8d8" stroke-width="0.8" />
<line x1="217.34" y1="881.5" x2="217.34" y2="890.2" stroke="#d8d8d8" stroke-width="0.8" />
<circle cx="214.84" cy="894.7" r="2.6" fill="none" stroke="#d8d8d8" stroke-width="0.7"/>
<circle cx="214.84" cy="894.7" r="0.8" fill="#d8d8d8" stroke="none" stroke-width="0"/>
<text transform="translate(217.29 905) rotate(-90) scale(0.89 1)" font-size="6.8" fill="#d8d8d8" text-anchor="middle" font-weight="normal" font-style="normal" >3</text>
<line x1="212.64" y1="914.9" x2="212.64" y2="923.6" stroke="#d8d8d8" stroke-width="0.8" />
<line x1="217.34" y1="914.9" x2="217.34" y2="923.6" stroke="#d8d8d8" stroke-width="0.8" />
<rect x="211.04" y="923.6" width="7.6" height="5.8" fill="none" stroke="#d8d8d8" stroke-width="0.8" />
<line x1="211.64" y1="928.8" x2="218.04" y2="924.2" stroke="#d8d8d8" stroke-width="0.7" />
<line x1="221.66" y1="881.5" x2="221.66" y2="890.2" stroke="#d8d8d8" stroke-width="0.8" />
<line x1="226.36" y1="881.5" x2="226.36" y2="890.2" stroke="#d8d8d8" stroke-width="0.8" />
<circle cx="223.86" cy="894.7" r="2.6" fill="none" stroke="#d8d8d8" stroke-width="0.7"/>
<circle cx="223.86" cy="894.7" r="0.8" fill="#d8d8d8" stroke="none" stroke-width="0"/>
<text transform="translate(226.31 905) rotate(-90) scale(0.89 1)" font-size="6.8" fill="#d8d8d8" text-anchor="middle" font-weight="normal" font-style="normal" >4</text>
<line x1="221.66" y1="914.9" x2="221.66" y2="923.6" stroke="#d8d8d8" stroke-width="0.8" />
<line x1="226.36" y1="914.9" x2="226.36" y2="923.6" stroke="#d8d8d8" stroke-width="0.8" />
<rect x="220.06" y="923.6" width="7.6" height="5.8" fill="none" stroke="#d8d8d8" stroke-width="0.8" />
<line x1="220.66" y1="928.8" x2="227.06" y2="924.2" stroke="#d8d8d8" stroke-width="0.7" />
<line x1="230.68" y1="881.5" x2="230.68" y2="890.2" stroke="#d8d8d8" stroke-width="0.8" />
<line x1="235.38" y1="881.5" x2="235.38" y2="890.2" stroke="#d8d8d8" stroke-width="0.8" />
<circle cx="232.88" cy="894.7" r="2.6" fill="none" stroke="#d8d8d8" stroke-width="0.7"/>
<circle cx="232.88" cy="894.7" r="0.8" fill="#d8d8d8" stroke="none" stroke-width="0"/>
<text transform="translate(235.33 905) rotate(-90) scale(0.89 1)" font-size="6.8" fill="#d8d8d8" text-anchor="middle" font-weight="normal" font-style="normal" >5</text>
<line x1="230.68" y1="914.9" x2="230.68" y2="923.6" stroke="#d8d8d8" stroke-width="0.8" />
<line x1="235.38" y1="914.9" x2="235.38" y2="923.6" stroke="#d8d8d8" stroke-width="0.8" />
<rect x="229.08" y="923.6" width="7.6" height="5.8" fill="none" stroke="#d8d8d8" stroke-width="0.8" />
<line x1="229.68" y1="928.8" x2="236.08" y2="924.2" stroke="#d8d8d8" stroke-width="0.7" />
<line x1="239.7" y1="881.5" x2="239.7" y2="890.2" stroke="#d8d8d8" stroke-width="0.8" />
<line x1="244.4" y1="881.5" x2="244.4" y2="890.2" stroke="#d8d8d8" stroke-width="0.8" />
<circle cx="241.9" cy="894.7" r="2.6" fill="none" stroke="#d8d8d8" stroke-width="0.7"/>
<circle cx="241.9" cy="894.7" r="0.8" fill="#d8d8d8" stroke="none" stroke-width="0"/>
<text transform="translate(244.35 905) rotate(-90) scale(0.89 1)" font-size="6.8" fill="#d8d8d8" text-anchor="middle" font-weight="normal" font-style="normal" >6</text>
<line x1="239.7" y1="914.9" x2="239.7" y2="923.6" stroke="#d8d8d8" stroke-width="0.8" />
<line x1="244.4" y1="914.9" x2="244.4" y2="923.6" stroke="#d8d8d8" stroke-width="0.8" />
<rect x="238.1" y="923.6" width="7.6" height="5.8" fill="none" stroke="#d8d8d8" stroke-width="0.8" />
<line x1="238.7" y1="928.8" x2="245.1" y2="924.2" stroke="#d8d8d8" stroke-width="0.7" />
<line x1="248.72" y1="881.5" x2="248.72" y2="890.2" stroke="#d8d8d8" stroke-width="0.8" />
<line x1="253.42" y1="881.5" x2="253.42" y2="890.2" stroke="#d8d8d8" stroke-width="0.8" />
<circle cx="250.92" cy="894.7" r="2.6" fill="none" stroke="#d8d8d8" stroke-width="0.7"/>
<circle cx="250.92" cy="894.7" r="0.8" fill="#d8d8d8" stroke="none" stroke-width="0"/>
<text transform="translate(253.37 905) rotate(-90) scale(0.89 1)" font-size="6.8" fill="#d8d8d8" text-anchor="middle" font-weight="normal" font-style="normal" >7</text>
<line x1="248.72" y1="914.9" x2="248.72" y2="923.6" stroke="#d8d8d8" stroke-width="0.8" />
<line x1="253.42" y1="914.9" x2="253.42" y2="923.6" stroke="#d8d8d8" stroke-width="0.8" />
<rect x="247.12" y="923.6" width="7.6" height="5.8" fill="none" stroke="#d8d8d8" stroke-width="0.8" />
<line x1="247.72" y1="928.8" x2="254.12" y2="924.2" stroke="#d8d8d8" stroke-width="0.7" />
<line x1="257.74" y1="881.5" x2="257.74" y2="890.2" stroke="#d8d8d8" stroke-width="0.8" />
<line x1="262.44" y1="881.5" x2="262.44" y2="890.2" stroke="#d8d8d8" stroke-width="0.8" />
<circle cx="259.94" cy="894.7" r="2.6" fill="none" stroke="#d8d8d8" stroke-width="0.7"/>
<circle cx="259.94" cy="894.7" r="0.8" fill="#d8d8d8" stroke="none" stroke-width="0"/>
<text transform="translate(262.39 905) rotate(-90) scale(0.89 1)" font-size="6.8" fill="#d8d8d8" text-anchor="middle" font-weight="normal" font-style="normal" >8</text>
<line x1="257.74" y1="914.9" x2="257.74" y2="923.6" stroke="#d8d8d8" stroke-width="0.8" />
<line x1="262.44" y1="914.9" x2="262.44" y2="923.6" stroke="#d8d8d8" stroke-width="0.8" />
<rect x="256.14" y="923.6" width="7.6" height="5.8" fill="none" stroke="#d8d8d8" stroke-width="0.8" />
<line x1="256.74" y1="928.8" x2="263.14" y2="924.2" stroke="#d8d8d8" stroke-width="0.7" />
<line x1="266.76" y1="881.5" x2="266.76" y2="890.2" stroke="#d8d8d8" stroke-width="0.8" />
<line x1="271.46" y1="881.5" x2="271.46" y2="890.2" stroke="#d8d8d8" stroke-width="0.8" />
<circle cx="268.96" cy="894.7" r="2.6" fill="none" stroke="#d8d8d8" stroke-width="0.7"/>
<circle cx="268.96" cy="894.7" r="0.8" fill="#d8d8d8" stroke="none" stroke-width="0"/>
<text transform="translate(271.41 905) rotate(-90) scale(0.89 1)" font-size="6.8" fill="#000" text-anchor="middle" font-weight="normal" font-style="normal" >9</text>
<line x1="266.76" y1="914.9" x2="266.76" y2="923.6" stroke="#d8d8d8" stroke-width="0.8" />
<line x1="271.46" y1="914.9" x2="271.46" y2="923.6" stroke="#000" stroke-width="0.9" />
<rect x="265.16" y="923.6" width="7.6" height="5.8" fill="none" stroke="#000" stroke-width="0.85" />
<line x1="265.76" y1="928.8" x2="272.16" y2="924.2" stroke="#000" stroke-width="0.9" />
<text transform="translate(271.41 937.5) rotate(-90) scale(0.89 1)" font-size="6.8" fill="#000" text-anchor="middle" font-weight="normal" font-style="normal" >M1</text>
<line x1="275.78" y1="881.5" x2="275.78" y2="890.2" stroke="#d8d8d8" stroke-width="0.8" />
<line x1="280.48" y1="881.5" x2="280.48" y2="890.2" stroke="#d8d8d8" stroke-width="0.8" />
<circle cx="277.98" cy="894.7" r="2.6" fill="none" stroke="#d8d8d8" stroke-width="0.7"/>
<circle cx="277.98" cy="894.7" r="0.8" fill="#d8d8d8" stroke="none" stroke-width="0"/>
<text transform="translate(280.43 905) rotate(-90) scale(0.89 1)" font-size="6.8" fill="#000" text-anchor="middle" font-weight="normal" font-style="normal" >10</text>
<line x1="275.78" y1="914.9" x2="275.78" y2="923.6" stroke="#d8d8d8" stroke-width="0.8" />
<line x1="280.48" y1="914.9" x2="280.48" y2="923.6" stroke="#000" stroke-width="0.9" />
<rect x="274.18" y="923.6" width="7.6" height="5.8" fill="none" stroke="#000" stroke-width="0.85" />
<line x1="274.78" y1="928.8" x2="281.18" y2="924.2" stroke="#000" stroke-width="0.9" />
<text transform="translate(280.43 937.5) rotate(-90) scale(0.89 1)" font-size="6.8" fill="#000" text-anchor="middle" font-weight="normal" font-style="normal" >M2</text>
<line x1="284.8" y1="881.5" x2="284.8" y2="890.2" stroke="#d8d8d8" stroke-width="0.8" />
<line x1="289.5" y1="881.5" x2="289.5" y2="890.2" stroke="#d8d8d8" stroke-width="0.8" />
<circle cx="287" cy="894.7" r="2.6" fill="none" stroke="#d8d8d8" stroke-width="0.7"/>
<circle cx="287" cy="894.7" r="0.8" fill="#d8d8d8" stroke="none" stroke-width="0"/>
<text transform="translate(289.45 905) rotate(-90) scale(0.89 1)" font-size="6.8" fill="#000" text-anchor="middle" font-weight="normal" font-style="normal" >11</text>
<line x1="284.8" y1="914.9" x2="284.8" y2="923.6" stroke="#d8d8d8" stroke-width="0.8" />
<line x1="289.5" y1="914.9" x2="289.5" y2="923.6" stroke="#000" stroke-width="0.9" />
<rect x="283.2" y="923.6" width="7.6" height="5.8" fill="none" stroke="#000" stroke-width="0.85" />
<line x1="283.8" y1="928.8" x2="290.2" y2="924.2" stroke="#000" stroke-width="0.9" />
<text transform="translate(289.45 937.5) rotate(-90) scale(0.89 1)" font-size="6.8" fill="#000" text-anchor="middle" font-weight="normal" font-style="normal" >M3</text>
<line x1="293.82" y1="881.5" x2="293.82" y2="890.2" stroke="#d8d8d8" stroke-width="0.8" />
<line x1="298.52" y1="881.5" x2="298.52" y2="890.2" stroke="#d8d8d8" stroke-width="0.8" />
<circle cx="296.02" cy="894.7" r="2.6" fill="none" stroke="#d8d8d8" stroke-width="0.7"/>
<circle cx="296.02" cy="894.7" r="0.8" fill="#d8d8d8" stroke="none" stroke-width="0"/>
<text transform="translate(298.47 905) rotate(-90) scale(0.89 1)" font-size="6.8" fill="#000" text-anchor="middle" font-weight="normal" font-style="normal" >12</text>
<line x1="293.82" y1="914.9" x2="293.82" y2="923.6" stroke="#d8d8d8" stroke-width="0.8" />
<line x1="298.52" y1="914.9" x2="298.52" y2="923.6" stroke="#000" stroke-width="0.9" />
<rect x="292.22" y="923.6" width="7.6" height="5.8" fill="none" stroke="#000" stroke-width="0.85" />
<line x1="292.82" y1="928.8" x2="299.22" y2="924.2" stroke="#000" stroke-width="0.9" />
<text transform="translate(298.47 937.5) rotate(-90) scale(0.89 1)" font-size="6.8" fill="#000" text-anchor="middle" font-weight="normal" font-style="normal" >M4</text>
<line x1="302.84" y1="881.5" x2="302.84" y2="890.2" stroke="#d8d8d8" stroke-width="0.8" />
<line x1="307.54" y1="881.5" x2="307.54" y2="890.2" stroke="#d8d8d8" stroke-width="0.8" />
<circle cx="305.04" cy="894.7" r="2.6" fill="none" stroke="#d8d8d8" stroke-width="0.7"/>
<circle cx="305.04" cy="894.7" r="0.8" fill="#d8d8d8" stroke="none" stroke-width="0"/>
<text transform="translate(307.49 905) rotate(-90) scale(0.89 1)" font-size="6.8" fill="#d8d8d8" text-anchor="middle" font-weight="normal" font-style="normal" >13</text>
<line x1="302.84" y1="914.9" x2="302.84" y2="923.6" stroke="#d8d8d8" stroke-width="0.8" />
<line x1="307.54" y1="914.9" x2="307.54" y2="923.6" stroke="#d8d8d8" stroke-width="0.8" />
<rect x="301.24" y="923.6" width="7.6" height="5.8" fill="none" stroke="#d8d8d8" stroke-width="0.8" />
<line x1="301.84" y1="928.8" x2="308.24" y2="924.2" stroke="#d8d8d8" stroke-width="0.7" />
<line x1="311.86" y1="881.5" x2="311.86" y2="890.2" stroke="#d8d8d8" stroke-width="0.8" />
<line x1="316.56" y1="881.5" x2="316.56" y2="890.2" stroke="#d8d8d8" stroke-width="0.8" />
<circle cx="314.06" cy="894.7" r="2.6" fill="none" stroke="#d8d8d8" stroke-width="0.7"/>
<circle cx="314.06" cy="894.7" r="0.8" fill="#d8d8d8" stroke="none" stroke-width="0"/>
<text transform="translate(316.51 905) rotate(-90) scale(0.89 1)" font-size="6.8" fill="#d8d8d8" text-anchor="middle" font-weight="normal" font-style="normal" >14</text>
<line x1="311.86" y1="914.9" x2="311.86" y2="923.6" stroke="#d8d8d8" stroke-width="0.8" />
<line x1="316.56" y1="914.9" x2="316.56" y2="923.6" stroke="#d8d8d8" stroke-width="0.8" />
<rect x="310.26" y="923.6" width="7.6" height="5.8" fill="none" stroke="#d8d8d8" stroke-width="0.8" />
<line x1="310.86" y1="928.8" x2="317.26" y2="924.2" stroke="#d8d8d8" stroke-width="0.7" />
<line x1="320.88" y1="881.5" x2="320.88" y2="890.2" stroke="#d8d8d8" stroke-width="0.8" />
<line x1="325.58" y1="881.5" x2="325.58" y2="890.2" stroke="#d8d8d8" stroke-width="0.8" />
<circle cx="323.08" cy="894.7" r="2.6" fill="none" stroke="#d8d8d8" stroke-width="0.7"/>
<circle cx="323.08" cy="894.7" r="0.8" fill="#d8d8d8" stroke="none" stroke-width="0"/>
<text transform="translate(325.53 905) rotate(-90) scale(0.89 1)" font-size="6.8" fill="#d8d8d8" text-anchor="middle" font-weight="normal" font-style="normal" >15</text>
<line x1="320.88" y1="914.9" x2="320.88" y2="923.6" stroke="#d8d8d8" stroke-width="0.8" />
<line x1="325.58" y1="914.9" x2="325.58" y2="923.6" stroke="#d8d8d8" stroke-width="0.8" />
<rect x="319.28" y="923.6" width="7.6" height="5.8" fill="none" stroke="#d8d8d8" stroke-width="0.8" />
<line x1="319.88" y1="928.8" x2="326.28" y2="924.2" stroke="#d8d8d8" stroke-width="0.7" />
<line x1="329.9" y1="881.5" x2="329.9" y2="890.2" stroke="#d8d8d8" stroke-width="0.8" />
<line x1="334.6" y1="881.5" x2="334.6" y2="890.2" stroke="#d8d8d8" stroke-width="0.8" />
<circle cx="332.1" cy="894.7" r="2.6" fill="none" stroke="#d8d8d8" stroke-width="0.7"/>
<circle cx="332.1" cy="894.7" r="0.8" fill="#d8d8d8" stroke="none" stroke-width="0"/>
<text transform="translate(334.55 905) rotate(-90) scale(0.89 1)" font-size="6.8" fill="#d8d8d8" text-anchor="middle" font-weight="normal" font-style="normal" >16</text>
<line x1="329.9" y1="914.9" x2="329.9" y2="923.6" stroke="#d8d8d8" stroke-width="0.8" />
<line x1="334.6" y1="914.9" x2="334.6" y2="923.6" stroke="#d8d8d8" stroke-width="0.8" />
<rect x="328.3" y="923.6" width="7.6" height="5.8" fill="none" stroke="#d8d8d8" stroke-width="0.8" />
<line x1="328.9" y1="928.8" x2="335.3" y2="924.2" stroke="#d8d8d8" stroke-width="0.7" />
<line x1="338.92" y1="881.5" x2="338.92" y2="890.2" stroke="#d8d8d8" stroke-width="0.8" />
<line x1="343.62" y1="881.5" x2="343.62" y2="890.2" stroke="#d8d8d8" stroke-width="0.8" />
<circle cx="341.12" cy="894.7" r="2.6" fill="none" stroke="#d8d8d8" stroke-width="0.7"/>
<circle cx="341.12" cy="894.7" r="0.8" fill="#d8d8d8" stroke="none" stroke-width="0"/>
<text transform="translate(343.57 905) rotate(-90) scale(0.89 1)" font-size="6.8" fill="#d8d8d8" text-anchor="middle" font-weight="normal" font-style="normal" >17</text>
<line x1="338.92" y1="914.9" x2="338.92" y2="923.6" stroke="#d8d8d8" stroke-width="0.8" />
<line x1="343.62" y1="914.9" x2="343.62" y2="923.6" stroke="#d8d8d8" stroke-width="0.8" />
<rect x="337.32" y="923.6" width="7.6" height="5.8" fill="none" stroke="#d8d8d8" stroke-width="0.8" />
<line x1="337.92" y1="928.8" x2="344.32" y2="924.2" stroke="#d8d8d8" stroke-width="0.7" />
<line x1="347.94" y1="881.5" x2="347.94" y2="890.2" stroke="#d8d8d8" stroke-width="0.8" />
<line x1="352.64" y1="881.5" x2="352.64" y2="890.2" stroke="#d8d8d8" stroke-width="0.8" />
<circle cx="350.14" cy="894.7" r="2.6" fill="none" stroke="#d8d8d8" stroke-width="0.7"/>
<circle cx="350.14" cy="894.7" r="0.8" fill="#d8d8d8" stroke="none" stroke-width="0"/>
<text transform="translate(352.59 905) rotate(-90) scale(0.89 1)" font-size="6.8" fill="#d8d8d8" text-anchor="middle" font-weight="normal" font-style="normal" >18</text>
<line x1="347.94" y1="914.9" x2="347.94" y2="923.6" stroke="#d8d8d8" stroke-width="0.8" />
<line x1="352.64" y1="914.9" x2="352.64" y2="923.6" stroke="#d8d8d8" stroke-width="0.8" />
<rect x="346.34" y="923.6" width="7.6" height="5.8" fill="none" stroke="#d8d8d8" stroke-width="0.8" />
<line x1="346.94" y1="928.8" x2="353.34" y2="924.2" stroke="#d8d8d8" stroke-width="0.7" />
<line x1="356.96" y1="881.5" x2="356.96" y2="890.2" stroke="#d8d8d8" stroke-width="0.8" />
<line x1="361.66" y1="881.5" x2="361.66" y2="890.2" stroke="#d8d8d8" stroke-width="0.8" />
<circle cx="359.16" cy="894.7" r="2.6" fill="none" stroke="#d8d8d8" stroke-width="0.7"/>
<circle cx="359.16" cy="894.7" r="0.8" fill="#d8d8d8" stroke="none" stroke-width="0"/>
<text transform="translate(361.61 905) rotate(-90) scale(0.89 1)" font-size="6.8" fill="#d8d8d8" text-anchor="middle" font-weight="normal" font-style="normal" >19</text>
<line x1="356.96" y1="914.9" x2="356.96" y2="923.6" stroke="#d8d8d8" stroke-width="0.8" />
<line x1="361.66" y1="914.9" x2="361.66" y2="923.6" stroke="#d8d8d8" stroke-width="0.8" />
<rect x="355.36" y="923.6" width="7.6" height="5.8" fill="none" stroke="#d8d8d8" stroke-width="0.8" />
<line x1="355.96" y1="928.8" x2="362.36" y2="924.2" stroke="#d8d8d8" stroke-width="0.7" />
<line x1="365.98" y1="881.5" x2="365.98" y2="890.2" stroke="#d8d8d8" stroke-width="0.8" />
<line x1="370.68" y1="881.5" x2="370.68" y2="890.2" stroke="#d8d8d8" stroke-width="0.8" />
<circle cx="368.18" cy="894.7" r="2.6" fill="none" stroke="#d8d8d8" stroke-width="0.7"/>
<circle cx="368.18" cy="894.7" r="0.8" fill="#d8d8d8" stroke="none" stroke-width="0"/>
<text transform="translate(370.63 905) rotate(-90) scale(0.89 1)" font-size="6.8" fill="#d8d8d8" text-anchor="middle" font-weight="normal" font-style="normal" >20</text>
<line x1="365.98" y1="914.9" x2="365.98" y2="923.6" stroke="#d8d8d8" stroke-width="0.8" />
<line x1="370.68" y1="914.9" x2="370.68" y2="923.6" stroke="#d8d8d8" stroke-width="0.8" />
<rect x="364.38" y="923.6" width="7.6" height="5.8" fill="none" stroke="#d8d8d8" stroke-width="0.8" />
<line x1="364.98" y1="928.8" x2="371.38" y2="924.2" stroke="#d8d8d8" stroke-width="0.7" />
<line x1="375" y1="881.5" x2="375" y2="890.2" stroke="#d8d8d8" stroke-width="0.8" />
<line x1="379.7" y1="881.5" x2="379.7" y2="890.2" stroke="#d8d8d8" stroke-width="0.8" />
<circle cx="377.2" cy="894.7" r="2.6" fill="none" stroke="#d8d8d8" stroke-width="0.7"/>
<circle cx="377.2" cy="894.7" r="0.8" fill="#d8d8d8" stroke="none" stroke-width="0"/>
<text transform="translate(379.65 905) rotate(-90) scale(0.89 1)" font-size="6.8" fill="#d8d8d8" text-anchor="middle" font-weight="normal" font-style="normal" >21</text>
<line x1="375" y1="914.9" x2="375" y2="923.6" stroke="#d8d8d8" stroke-width="0.8" />
<line x1="379.7" y1="914.9" x2="379.7" y2="923.6" stroke="#d8d8d8" stroke-width="0.8" />
<rect x="373.4" y="923.6" width="7.6" height="5.8" fill="none" stroke="#d8d8d8" stroke-width="0.8" />
<line x1="374" y1="928.8" x2="380.4" y2="924.2" stroke="#d8d8d8" stroke-width="0.7" />
<line x1="384.02" y1="881.5" x2="384.02" y2="890.2" stroke="#d8d8d8" stroke-width="0.8" />
<line x1="388.72" y1="881.5" x2="388.72" y2="890.2" stroke="#d8d8d8" stroke-width="0.8" />
<circle cx="386.22" cy="894.7" r="2.6" fill="none" stroke="#d8d8d8" stroke-width="0.7"/>
<circle cx="386.22" cy="894.7" r="0.8" fill="#d8d8d8" stroke="none" stroke-width="0"/>
<text transform="translate(388.67 905) rotate(-90) scale(0.89 1)" font-size="6.8" fill="#d8d8d8" text-anchor="middle" font-weight="normal" font-style="normal" >22</text>
<line x1="384.02" y1="914.9" x2="384.02" y2="923.6" stroke="#d8d8d8" stroke-width="0.8" />
<line x1="388.72" y1="914.9" x2="388.72" y2="923.6" stroke="#d8d8d8" stroke-width="0.8" />
<rect x="382.42" y="923.6" width="7.6" height="5.8" fill="none" stroke="#d8d8d8" stroke-width="0.8" />
<line x1="383.02" y1="928.8" x2="389.42" y2="924.2" stroke="#d8d8d8" stroke-width="0.7" />
<line x1="393.04" y1="881.5" x2="393.04" y2="890.2" stroke="#d8d8d8" stroke-width="0.8" />
<line x1="397.74" y1="881.5" x2="397.74" y2="890.2" stroke="#d8d8d8" stroke-width="0.8" />
<circle cx="395.24" cy="894.7" r="2.6" fill="none" stroke="#d8d8d8" stroke-width="0.7"/>
<circle cx="395.24" cy="894.7" r="0.8" fill="#d8d8d8" stroke="none" stroke-width="0"/>
<text transform="translate(397.69 905) rotate(-90) scale(0.89 1)" font-size="6.8" fill="#d8d8d8" text-anchor="middle" font-weight="normal" font-style="normal" >23</text>
<line x1="393.04" y1="914.9" x2="393.04" y2="923.6" stroke="#d8d8d8" stroke-width="0.8" />
<line x1="397.74" y1="914.9" x2="397.74" y2="923.6" stroke="#d8d8d8" stroke-width="0.8" />
<rect x="391.44" y="923.6" width="7.6" height="5.8" fill="none" stroke="#d8d8d8" stroke-width="0.8" />
<line x1="392.04" y1="928.8" x2="398.44" y2="924.2" stroke="#d8d8d8" stroke-width="0.7" />
<line x1="392.18" y1="884.08" x2="406.7" y2="884.08" stroke="#b4b4b4" stroke-width="0.8" />
<line x1="406.7" y1="884.08" x2="406.7" y2="886.08" stroke="#b4b4b4" stroke-width="0.8" />
<rect x="404.69" y="886.08" width="2.29" height="8.31" fill="none" stroke="#b4b4b4" stroke-width="0.8" />
<polyline points="396.67,888.18 402.88,888.18 402.88,895.44 405.84,895.44 405.84,894.39" fill="none" stroke="#b4b4b4" stroke-width="0.8" />
<text transform="translate(420.2 866) rotate(-90) scale(0.8 1)" font-size="7.1" fill="#222" text-anchor="middle" font-weight="normal" font-style="normal" >ZNR. 40066 0EF0</text>
<rect x="505.5" y="818.5" width="251" height="66.5" fill="#e2e2e2" stroke="none" stroke-width="1" />
<line x1="505.5" y1="818.5" x2="756.5" y2="818.5" stroke="#444" stroke-width="0.9" />
<line x1="505.5" y1="818.5" x2="505.5" y2="885" stroke="#333" stroke-width="1" />
<line x1="756.5" y1="818.5" x2="756.5" y2="885" stroke="#999" stroke-width="0.8" />
<rect x="636.5" y="869.8" width="34.8" height="15.2" fill="#fff" stroke="none" stroke-width="1" />
<text transform="translate(513.15 881.8)" font-size="11.2" fill="#8a8a8a" text-anchor="middle" font-weight="normal" font-style="normal" >71</text>
<text transform="translate(527.55 881.8)" font-size="11.2" fill="#8a8a8a" text-anchor="middle" font-weight="normal" font-style="normal" >72</text>
<text transform="translate(542.35 881.8)" font-size="11.2" fill="#8a8a8a" text-anchor="middle" font-weight="normal" font-style="normal" >7</text>
<text transform="translate(556.85 881.8)" font-size="11.2" fill="#8a8a8a" text-anchor="middle" font-weight="normal" font-style="normal" >8</text>
<text transform="translate(571.05 881.8)" font-size="11.2" fill="#8a8a8a" text-anchor="middle" font-weight="normal" font-style="normal" >9</text>
<text transform="translate(585.55 881.8)" font-size="11.2" fill="#8a8a8a" text-anchor="middle" font-weight="normal" font-style="normal" >20</text>
<text transform="translate(600.35 881.8)" font-size="11.2" fill="#8a8a8a" text-anchor="middle" font-weight="normal" font-style="normal" >28</text>
<text transform="translate(615.2 881.8)" font-size="11.2" fill="#8a8a8a" text-anchor="middle" font-weight="normal" font-style="normal" >A1</text>
<text transform="translate(629.75 881.8)" font-size="11.2" fill="#8a8a8a" text-anchor="middle" font-weight="normal" font-style="normal" >62</text>
<text transform="translate(645.65 881.5)" font-size="8" fill="#000" text-anchor="middle" font-weight="normal" font-style="normal" letter-spacing="0.9" stroke="#000" stroke-width="0.32">K14</text>
<text transform="translate(663.05 881.5)" font-size="8" fill="#000" text-anchor="middle" font-weight="normal" font-style="normal" letter-spacing="0.9" stroke="#000" stroke-width="0.32">K12</text>
<line x1="505.5" y1="869.8" x2="505.5" y2="885" stroke="#333" stroke-width="0.9" />
<line x1="519.8" y1="869.8" x2="519.8" y2="885" stroke="#d0d0d0" stroke-width="0.9" />
<line x1="534.3" y1="869.8" x2="534.3" y2="885" stroke="#333" stroke-width="0.9" />
<line x1="549.4" y1="869.8" x2="549.4" y2="885" stroke="#ccc" stroke-width="0.9" />
<line x1="563.3" y1="869.8" x2="563.3" y2="885" stroke="#555" stroke-width="0.9" />
<line x1="577.8" y1="869.8" x2="577.8" y2="885" stroke="#d0d0d0" stroke-width="0.9" />
<line x1="592.3" y1="869.8" x2="592.3" y2="885" stroke="#555" stroke-width="0.9" />
<line x1="607.4" y1="869.8" x2="607.4" y2="885" stroke="#999" stroke-width="0.9" />
<line x1="622" y1="869.8" x2="622" y2="885" stroke="#999" stroke-width="0.9" />
<line x1="636.5" y1="869.8" x2="636.5" y2="885" stroke="#bbb" stroke-width="0.9" />
<line x1="505.5" y1="885" x2="636.5" y2="885" stroke="#d4d4d4" stroke-width="0.9" />
<line x1="505.5" y1="869.8" x2="636.5" y2="869.8" stroke="#dcdcdc" stroke-width="0.8" />
<line x1="671.3" y1="885" x2="687.6" y2="885" stroke="#999" stroke-width="0.8" />
<text x="513.5" y="837.7" font-size="11.45" fill="#222" letter-spacing="0.25">Lenze: <tspan font-style="italic">smd</tspan></text>
<polyline points="642.5,869.8 642.5,856.6 647.5,856.6" fill="none" stroke="#222" stroke-width="0.9" />
<circle cx="647.5" cy="856.6" r="1.3" fill="#000" stroke="none" stroke-width="0"/>
<line x1="647.5" y1="856.6" x2="658.2" y2="852.2" stroke="#222" stroke-width="0.9" />
<polyline points="658.7,856.6 664.5,856.6 664.5,869.8" fill="none" stroke="#222" stroke-width="0.9" />
<polyline points="293.5,727.5 293.5,839" fill="none" stroke="#999" stroke-width="1" />
<polyline points="298.5,858 298.5,812.5 447.5,812.5 447.5,902.5 664.5,902.5 664.5,885" fill="none" stroke="#999" stroke-width="1" />
<polyline points="298.5,859 298.5,812.5" fill="none" stroke="#111" stroke-width="1" />
<polyline points="478.5,705.5 478.5,892.5 642.5,892.5 642.5,885" fill="none" stroke="#111" stroke-width="1" />
<circle cx="293.5" cy="727.5" r="1.5" fill="#000" stroke="none" stroke-width="0"/>
<circle cx="478.5" cy="705.5" r="1.5" fill="#000" stroke="none" stroke-width="0"/>
<rect x="475.5" y="831.5" width="6.3" height="18" fill="#fff" stroke="#222" stroke-width="0.95" />
<line x1="481.8" y1="832.1" x2="481.8" y2="848.9" stroke="#ddd" stroke-width="1.1" />
<line x1="478.5" y1="831.5" x2="478.5" y2="849.5" stroke="#000" stroke-width="1" />
<rect x="687.6" y="818.5" width="17.8" height="14.5" fill="#fff" stroke="none" stroke-width="1" />
<rect x="687.6" y="870.5" width="17.8" height="14.5" fill="#fff" stroke="none" stroke-width="1" />
<rect x="712.2" y="818.5" width="44.3" height="14.5" fill="#fff" stroke="none" stroke-width="1" />
<rect x="712.2" y="870.5" width="44.3" height="14.5" fill="#fff" stroke="none" stroke-width="1" />
<line x1="505.5" y1="818.5" x2="756.5" y2="818.5" stroke="#444" stroke-width="0.9" />
<text transform="translate(695.9 829.6)" font-size="11.2" fill="#111" text-anchor="middle" font-weight="normal" font-style="normal" >PE</text>
<text transform="translate(695.9 881.6)" font-size="11.2" fill="#111" text-anchor="middle" font-weight="normal" font-style="normal" >PE</text>
<text transform="translate(719.9 829.6)" font-size="11.2" fill="#111" text-anchor="middle" font-weight="normal" font-style="normal" >L1</text>
<text transform="translate(719.9 881.6)" font-size="11.2" fill="#111" text-anchor="middle" font-weight="normal" font-style="normal" >U</text>
<text transform="translate(734.6 829.6)" font-size="11.2" fill="#111" text-anchor="middle" font-weight="normal" font-style="normal" >L2</text>
<text transform="translate(734.6 881.6)" font-size="11.2" fill="#111" text-anchor="middle" font-weight="normal" font-style="normal" >V</text>
<text transform="translate(749.35 829.6)" font-size="11.2" fill="#111" text-anchor="middle" font-weight="normal" font-style="normal" >L3</text>
<text transform="translate(749.35 881.6)" font-size="11.2" fill="#111" text-anchor="middle" font-weight="normal" font-style="normal" >W</text>
<line x1="687.6" y1="818.5" x2="687.6" y2="833" stroke="#999" stroke-width="0.9" />
<line x1="687.6" y1="870.5" x2="687.6" y2="885" stroke="#999" stroke-width="0.9" />
<line x1="705.4" y1="818.5" x2="705.4" y2="833" stroke="#bbb" stroke-width="0.9" />
<line x1="705.4" y1="870.5" x2="705.4" y2="885" stroke="#bbb" stroke-width="0.9" />
<line x1="712.2" y1="818.5" x2="712.2" y2="833" stroke="#444" stroke-width="0.9" />
<line x1="712.2" y1="870.5" x2="712.2" y2="885" stroke="#555" stroke-width="0.9" />
<line x1="727" y1="818.5" x2="727" y2="833" stroke="#eee" stroke-width="0.9" />
<line x1="741.6" y1="818.5" x2="741.6" y2="833" stroke="#555" stroke-width="0.9" />
<line x1="741.6" y1="870.5" x2="741.6" y2="885" stroke="#555" stroke-width="0.9" />
<line x1="687.6" y1="870.5" x2="705.4" y2="870.5" stroke="#999" stroke-width="0.7" />
<line x1="712.2" y1="870.5" x2="756.5" y2="870.5" stroke="#333" stroke-width="1" />
<line x1="687.6" y1="885" x2="705.4" y2="885" stroke="#999" stroke-width="0.7" />
<line x1="712.2" y1="885" x2="756.5" y2="885" stroke="#666" stroke-width="0.9" />
<line x1="720.5" y1="705.4" x2="720.5" y2="771.4" stroke="#aaa" stroke-width="1" />
<rect x="717.6" y="745.5" width="5.8" height="18.9" fill="#fff" stroke="#666" stroke-width="0.9" />
<line x1="720.5" y1="745.5" x2="720.5" y2="764.4" stroke="#aaa" stroke-width="1" />
<circle cx="720.5" cy="705.4" r="1.5" fill="#000" stroke="none" stroke-width="0"/>
<line x1="715.5" y1="771.9" x2="720.9" y2="782.5" stroke="#222" stroke-width="0.9" />
<line x1="720.5" y1="804.6" x2="720.5" y2="818.5" stroke="#aaa" stroke-width="1" />
<line x1="720.5" y1="885" x2="720.5" y2="910.7" stroke="#444" stroke-width="1" />
<line x1="734.5" y1="712.9" x2="734.5" y2="771.4" stroke="#000" stroke-width="1" />
<rect x="731.6" y="745.5" width="5.8" height="18.9" fill="none" stroke="#000" stroke-width="0.9" />
<line x1="734.5" y1="745.5" x2="734.5" y2="764.4" stroke="#000" stroke-width="1" />
<circle cx="734.5" cy="712.9" r="1.5" fill="#000" stroke="none" stroke-width="0"/>
<line x1="729.5" y1="771.9" x2="734.9" y2="782.5" stroke="#222" stroke-width="0.9" />
<line x1="734.5" y1="804.6" x2="734.5" y2="818.5" stroke="#000" stroke-width="1" />
<line x1="734.5" y1="885" x2="734.5" y2="918.7" stroke="#000" stroke-width="1" />
<line x1="749.2" y1="720.1" x2="749.2" y2="771.4" stroke="#bbb" stroke-width="1" />
<rect x="746.3" y="745.5" width="5.8" height="18.9" fill="#fff" stroke="#666" stroke-width="0.9" />
<line x1="749.2" y1="745.5" x2="749.2" y2="764.4" stroke="#bbb" stroke-width="1" />
<circle cx="749.2" cy="720.1" r="1.5" fill="#000" stroke="none" stroke-width="0"/>
<line x1="744.2" y1="771.9" x2="749.6" y2="782.5" stroke="#222" stroke-width="0.9" />
<line x1="749.2" y1="804.6" x2="749.2" y2="818.5" stroke="#bbb" stroke-width="1" />
<line x1="749.2" y1="885" x2="749.2" y2="910.7" stroke="#bbb" stroke-width="1" />
<rect x="714.4" y="782.5" width="41.4" height="22.1" fill="#fff" stroke="#222" stroke-width="1" />
<line x1="714.4" y1="793.7" x2="755.8" y2="793.7" stroke="#333" stroke-width="0.9" />
<line x1="728.2" y1="782.5" x2="728.2" y2="804.6" stroke="#222" stroke-width="1" />
<line x1="742" y1="782.5" x2="742" y2="804.6" stroke="#222" stroke-width="1" />
<polyline points="720.5,782.5 720.5,785.86 724.1,785.86 724.1,790.56 720.5,790.56 720.5,793.7" fill="none" stroke="#222" stroke-width="1.15" />
<text x="722.3" y="802.1" font-size="10.2" fill="#333" text-anchor="middle" letter-spacing="1.3">I&gt;</text>
<polyline points="734.5,782.5 734.5,785.86 738.1,785.86 738.1,790.56 734.5,790.56 734.5,793.7" fill="none" stroke="#222" stroke-width="1.15" />
<text x="736.1" y="802.1" font-size="10.2" fill="#333" text-anchor="middle" letter-spacing="1.3">I&gt;</text>
<polyline points="749.2,782.5 749.2,785.86 752.8,785.86 752.8,790.56 749.2,790.56 749.2,793.7" fill="none" stroke="#222" stroke-width="1.15" />
<text x="749.9" y="802.1" font-size="10.2" fill="#333" text-anchor="middle" letter-spacing="1.3">I&gt;</text>
<line x1="698" y1="777.7" x2="746.7" y2="777.7" stroke="#aaa" stroke-width="0.8" stroke-dasharray="3 2"/>
<line x1="698" y1="773.2" x2="698" y2="782.2" stroke="#999" stroke-width="0.9" />
<rect x="702.1" y="773.4" width="10.1" height="9.4" fill="none" stroke="#777" stroke-width="0.8" />
<line x1="707.6" y1="773.4" x2="707.6" y2="799.5" stroke="#222" stroke-width="1.1" stroke-dasharray="2.5 2"/>
<line x1="707.6" y1="789.6" x2="714.4" y2="789.6" stroke="#222" stroke-width="0.9" />
<line x1="707.6" y1="799.5" x2="714.4" y2="799.5" stroke="#888" stroke-width="0.8" stroke-dasharray="2.5 2"/>
<line x1="694.4" y1="738.3" x2="694.4" y2="818.5" stroke="#000" stroke-width="1.1" />
<circle cx="694.4" cy="738.3" r="1.5" fill="#000" stroke="none" stroke-width="0"/>
<circle cx="735.2" cy="935.4" r="17.3" fill="#fff" stroke="#222" stroke-width="0.9"/>
<polyline points="695.3,885 695.3,910.7 718.5,929.6" fill="none" stroke="#222" stroke-width="0.9" />
<polyline points="720.5,910.7 727.1,919.4 720.2,941.9" fill="none" stroke="#222" stroke-width="0.9" />
<polyline points="749,910.7 742,919.4 751.4,940.5" fill="none" stroke="#222" stroke-width="0.9" />
<circle cx="718.5" cy="929.6" r="1.2" fill="#000" stroke="none" stroke-width="0"/>
<ellipse cx="734.8" cy="929.4" rx="1.3" ry="5.6" fill="none" stroke="#222" stroke-width="0.8" transform="rotate(0 734.8 935.4)"/>
<ellipse cx="734.8" cy="929.4" rx="1.3" ry="5.6" fill="none" stroke="#222" stroke-width="0.8" transform="rotate(120 734.8 935.4)"/>
<ellipse cx="734.8" cy="929.4" rx="1.3" ry="5.6" fill="none" stroke="#222" stroke-width="0.8" transform="rotate(240 734.8 935.4)"/>
<circle cx="734.8" cy="935.4" r="0.9" fill="#000" stroke="none" stroke-width="0"/>
</svg>
<div class="t b" style="top:113.79px;left:71px;">Example for NT compressor:</div>
<div class="info" style="top:423.5px"></div>
<svg class="ico" style="left:83.6px;top:438.4px" width="16" height="16" viewBox="0 0 16 16"><circle cx="8" cy="8" r="6.0" fill="none" stroke="#1c57b3" stroke-width="1.6"/><rect x="7.1" y="7" width="1.8" height="4.4" fill="#1c57b3"/><circle cx="8" cy="4.8" r="1.1" fill="#1c57b3"/></svg>
<div class="t " style="top:434.59px;left:110.8px;color:#333;">This fault signal is active when there is no voltage at the <i>NT / MP motor cutout 1 / FC Fault</i> input, i.e.</div>
<div class="t " style="top:450.79px;left:110.8px;color:#333;">the frequency converter must be parametrised and connected so that 230 V AC is present at the digital</div>
<div class="t " style="top:466.99px;left:110.8px;color:#333;">input 4 of the pack controller in the good state.</div>
<div class="t " style="top:504.19px;left:71px;">If the compressor control is parametrised as combined control and the fan control as speed control, the <i>NT /</i></div>
<div class="t " style="top:520.49px;left:71px;"><i>MP motor cutout 1 / FC Fault</i> input (digital input 4) monitors the fault signal output of the frequency converter for</div>
<div class="t " style="top:536.79px;left:71px;">the compressor control and must be wired accordingly. As a result, the fault signal output of the FC / speed</div>
<div class="t " style="top:553.09px;left:71px;">controller for the fans cannot be monitored.</div>
<div class="t b" style="top:575.69px;left:71px;">B. Fan combined control</div>
<div class="t " style="top:592.59px;left:71px;">An additional digital input is always required for the monitoring of the FC / speed controller for fan combined</div>
<div class="t " style="top:608.99px;left:71px;">control. The digital input "Motor protection fan" is used which always follows the last used motor protection</div>
<div class="t " style="top:626.09px;left:71px;">input. For this type of control, the message text for this input is automatically set to <i>Speed controller HP</i>.</div>
<div class="t b" style="top:647.99px;left:71px;">Example: number of fans n = 3</div>
<div class="t " style="top:664.49px;left:71px;">Number (n) of the digital inputs for motor protection fan = 3: M1 ... M3</div>
<div class="t " style="top:681.09px;left:71px;">Digital input for monitoring the FC / speed controller (n+1): 4th input (M4)</div>
<div class="info" style="top:970.9px"></div>
<svg class="ico" style="left:83.6px;top:985.8px" width="16" height="16" viewBox="0 0 16 16"><circle cx="8" cy="8" r="6.0" fill="none" stroke="#1c57b3" stroke-width="1.6"/><rect x="7.1" y="7" width="1.8" height="4.4" fill="#1c57b3"/><circle cx="8" cy="4.8" r="1.1" fill="#1c57b3"/></svg>
<div class="t " style="top:981.99px;left:110.8px;color:#333;">The fault signal is active when there is no voltage at the "Motor protection fan" (n+1) input, i.e. the FC /</div>
<div class="t " style="top:998.19px;left:110.8px;color:#333;">speed controller must be parametrised and connected so that 230 V AC is applied to this pack</div>
<div class="t " style="top:1014.39px;left:110.8px;color:#333;">controller input in the good state.</div>
<div class="t " style="top:1120.49px;left:71px;">Firmware V1.41 V1</div>
<div class="t " style="top:1120.49px;left:213.6px;width:400px;text-align:center;">16.05.2023</div>
<div class="t " style="top:1120.49px;right:71px;">128/223</div>
</body></html>
